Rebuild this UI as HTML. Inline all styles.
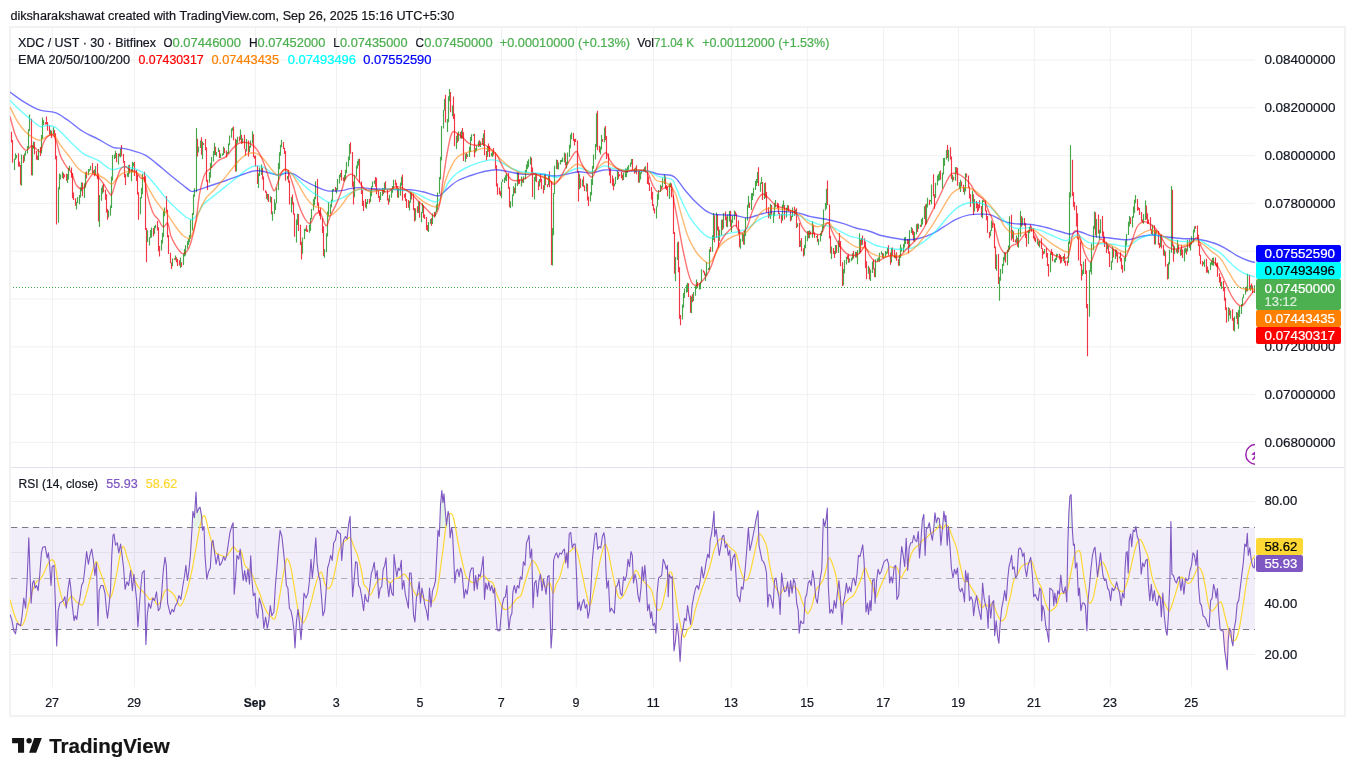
<!DOCTYPE html>
<html><head><meta charset="utf-8"><title>XDC / UST chart</title>
<style>html,body{margin:0;padding:0;background:#fff;overflow:hidden}body{width:1355px;height:776px;font-family:"Liberation Sans",sans-serif}</style></head>
<body>
<svg width="1355" height="776" viewBox="0 0 1355 776" style="display:block;will-change:transform;font-family:'Liberation Sans',sans-serif">
<rect width="1355" height="776" fill="#fff"/>
<text x="10.4" y="19.8" font-size="12.5" fill="#15171c" stroke="#15171c" stroke-width="0.22" textLength="444" lengthAdjust="spacingAndGlyphs">diksharakshawat created with TradingView.com, Sep 26, 2025 15:16 UTC+5:30</text>
<rect x="10" y="27" width="1335" height="689" fill="#fff" stroke="#f2f2f2" stroke-width="2"/>
<path d="M52.40,28V687M134.40,28V687M255.40,28V687M336.50,28V687M420.35,28V687M501.45,28V687M576.25,28V687M653.45,28V687M731.35,28V687M807.40,28V687M883.55,28V687M958.50,28V687M1034.30,28V687M1110.30,28V687M1191.55,28V687M11,60.00H1255M11,107.80H1255M11,155.60H1255M11,203.40H1255M11,251.20H1255M11,299.00H1255M11,346.80H1255M11,394.60H1255M11,442.40H1255M11,501.50H1255M11,552.50H1255M11,603.50H1255M11,654.50H1255" stroke="#f0f1f1" stroke-width="1" fill="none"/>
<path d="M11,467.5H1344" stroke="#e0e3eb" stroke-width="1.2"/>
<clipPath id="cm"><rect x="10" y="28" width="1245" height="439"/></clipPath>
<clipPath id="cr"><rect x="10" y="468" width="1245" height="219"/></clipPath>
<g clip-path="url(#cm)">
<path d="M11.5,131.7V142.5M12.5,140.1V162.8M18.5,153.2V166.4M19.5,161.8V166.7M20.5,165.0V184.8M23.5,155.3V163.0M31.5,118.8V175.2M34.5,142.1V154.3M36.5,151.0V159.5M37.5,155.5V160.0M40.5,146.9V155.9M45.5,122.3V124.5M46.5,116.4V124.4M47.5,121.9V130.7M49.5,125.4V134.3M51.5,130.7V137.9M54.5,130.0V137.0M55.5,133.2V159.2M56.5,155.7V224.5M63.5,172.9V179.1M64.5,174.4V177.3M66.5,173.8V180.8M71.5,167.4V177.7M72.5,173.1V198.3M73.5,192.4V199.9M75.5,198.2V205.7M82.5,182.4V196.3M86.5,171.5V178.4M92.5,163.0V173.7M94.5,169.4V176.2M97.5,163.6V179.3M98.5,173.5V221.4M103.5,184.1V192.3M105.5,189.7V199.8M106.5,194.3V212.6M107.5,209.1V219.8M116.5,152.9V162.2M119.5,153.5V156.4M121.5,145.1V156.2M123.5,154.0V162.7M124.5,161.1V177.4M125.5,173.9V185.1M129.5,164.8V173.6M134.5,161.9V176.1M136.5,170.0V181.1M137.5,175.0V194.4M138.5,192.2V219.8M144.5,171.7V182.1M145.5,176.2V230.1M146.5,227.9V262.3M153.5,228.0V236.2M157.5,221.1V230.6M158.5,227.2V251.2M159.5,246.0V256.5M166.5,196.1V212.5M167.5,209.8V237.6M168.5,235.1V254.1M170.5,252.8V263.3M171.5,262.5V268.9M174.5,258.3V259.8M176.5,257.3V262.2M177.5,258.9V266.1M179.5,260.2V265.6M181.5,262.2V266.9M197.5,138.8V156.5M201.5,137.2V154.8M203.5,142.9V145.0M205.5,139.0V150.2M206.5,147.2V181.8M207.5,179.8V190.0M215.5,146.8V154.9M219.5,150.0V158.0M224.5,148.1V153.2M226.5,150.5V157.3M233.5,126.6V140.3M235.5,138.7V171.5M239.5,136.5V141.4M241.5,134.8V143.7M244.5,134.8V149.0M245.5,148.9V155.8M248.5,140.6V156.4M253.5,134.3V157.3M254.5,155.8V158.8M255.5,155.5V166.6M257.5,165.4V183.9M262.5,167.7V179.6M263.5,176.6V190.6M265.5,190.3V192.7M266.5,191.5V198.8M268.5,194.1V202.0M271.5,197.0V214.3M283.5,142.0V149.0M284.5,147.8V153.9M285.5,151.0V180.7M288.5,169.7V182.7M289.5,180.6V204.6M292.5,194.4V204.7M293.5,202.2V214.7M294.5,213.5V236.7M298.5,214.0V230.9M300.5,224.7V245.0M301.5,241.7V259.6M306.5,225.3V231.8M307.5,229.4V232.0M317.5,179.1V205.7M318.5,202.5V212.5M319.5,210.0V215.8M320.5,207.4V219.6M322.5,217.9V232.9M323.5,226.3V255.9M335.5,187.0V191.4M341.5,170.1V180.6M343.5,177.3V181.1M350.5,142.3V153.7M352.5,152.1V186.7M353.5,181.5V204.5M359.5,158.7V182.7M361.5,181.4V194.0M362.5,189.9V206.1M363.5,200.8V210.9M365.5,199.0V207.4M369.5,199.0V203.5M375.5,177.1V186.7M376.5,177.8V194.3M378.5,190.3V198.1M379.5,196.0V201.9M383.5,188.7V194.3M385.5,181.3V190.1M387.5,188.9V200.6M388.5,198.6V204.8M395.5,179.8V185.6M396.5,182.7V188.9M397.5,186.2V197.4M402.5,174.5V200.4M404.5,194.0V197.8M405.5,193.1V200.9M406.5,198.9V208.0M408.5,200.1V207.8M411.5,192.3V199.5M413.5,193.7V210.3M414.5,208.1V221.4M417.5,206.2V212.7M419.5,201.5V217.8M423.5,205.2V217.8M424.5,214.6V218.9M426.5,217.0V230.1M427.5,225.0V231.0M431.5,218.0V225.8M434.5,212.1V217.4M445.5,94.7V122.4M450.5,91.9V112.2M453.5,96.5V119.0M454.5,113.8V146.3M457.5,133.2V142.7M460.5,132.1V138.6M462.5,128.1V138.4M463.5,132.2V161.1M466.5,152.7V158.7M474.5,133.8V157.3M479.5,140.3V146.2M482.5,137.9V144.5M484.5,130.1V155.2M486.5,150.9V160.6M488.5,143.6V151.8M489.5,145.9V156.9M493.5,148.0V155.5M495.5,152.4V168.7M496.5,165.2V186.5M497.5,183.6V194.8M499.5,187.4V194.6M500.5,191.2V196.0M508.5,172.9V188.7M509.5,187.0V207.3M514.5,187.8V193.2M518.5,172.4V184.2M519.5,179.4V183.8M522.5,179.8V182.6M531.5,157.8V172.7M532.5,167.5V197.0M536.5,173.9V182.2M538.5,181.2V190.1M540.5,174.2V182.2M541.5,178.7V189.2M543.5,185.3V193.5M545.5,173.8V185.2M547.5,184.2V187.3M549.5,171.3V187.2M551.5,181.0V264.9M557.5,160.1V169.3M565.5,153.4V165.5M573.5,133.1V141.0M574.5,139.1V145.5M575.5,138.8V141.9M577.5,140.6V172.6M578.5,171.2V201.5M580.5,178.5V187.7M583.5,176.4V187.0M584.5,185.5V191.1M587.5,183.8V200.5M588.5,196.5V206.0M597.5,110.7V150.2M599.5,145.8V152.5M602.5,138.9V141.8M605.5,126.0V140.0M606.5,136.0V159.0M608.5,153.5V168.8M609.5,167.7V175.4M610.5,168.3V183.2M612.5,175.5V185.7M613.5,178.6V190.2M618.5,171.7V178.7M619.5,174.3V176.3M621.5,171.8V178.2M622.5,174.7V180.6M632.5,159.1V169.9M634.5,168.4V173.7M636.5,165.2V174.3M638.5,171.1V182.8M644.5,167.3V171.4M647.5,162.6V183.9M648.5,176.6V184.8M649.5,182.8V191.1M651.5,187.1V199.6M652.5,191.8V205.9M653.5,204.2V210.4M654.5,208.5V213.5M661.5,186.1V188.9M665.5,176.5V188.8M666.5,185.2V189.9M667.5,187.1V196.3M671.5,183.6V197.2M673.5,195.3V233.9M674.5,232.0V273.8M678.5,241.5V272.2M679.5,267.3V318.7M680.5,315.1V325.2M688.5,283.2V297.1M690.5,295.6V312.8M692.5,294.2V302.3M697.5,281.9V288.0M703.5,270.2V272.5M704.5,271.4V275.6M710.5,246.9V251.9M714.5,215.3V242.2M717.5,214.6V230.5M718.5,226.6V247.6M722.5,219.5V229.9M725.5,211.4V220.2M726.5,216.5V226.7M730.5,210.8V226.7M735.5,211.5V215.4M736.5,213.5V227.2M738.5,220.6V234.3M739.5,229.3V247.2M743.5,233.7V244.5M749.5,202.6V208.1M758.5,167.3V186.1M762.5,182.0V200.0M765.5,182.4V197.7M766.5,192.0V212.6M768.5,207.2V218.3M771.5,205.0V214.8M777.5,202.8V208.2M778.5,203.4V213.9M779.5,212.8V218.7M781.5,214.1V223.3M784.5,205.1V219.5M788.5,205.5V211.5M790.5,210.2V221.6M794.5,206.8V215.8M796.5,208.2V227.9M799.5,222.9V247.0M801.5,237.9V251.2M803.5,248.3V256.5M808.5,230.9V238.3M810.5,231.5V234.4M813.5,224.7V233.8M814.5,232.3V237.7M817.5,234.5V241.8M827.5,180.6V205.1M829.5,204.6V238.5M830.5,235.7V253.4M833.5,248.0V254.0M834.5,250.9V258.0M836.5,244.9V252.8M839.5,233.1V247.2M840.5,241.0V266.3M842.5,262.3V286.1M847.5,255.2V259.2M848.5,254.4V262.8M853.5,251.0V258.5M856.5,252.0V257.6M860.5,239.5V252.4M862.5,235.4V244.8M864.5,238.2V247.1M865.5,241.6V268.0M866.5,261.3V279.3M869.5,267.4V279.6M873.5,259.5V269.2M874.5,268.3V277.2M882.5,252.9V257.8M888.5,245.2V255.5M890.5,252.6V264.7M892.5,247.4V255.4M894.5,250.0V258.0M896.5,252.3V260.8M898.5,258.8V265.8M907.5,239.1V243.9M908.5,239.8V253.6M912.5,228.5V234.8M913.5,231.0V240.7M917.5,223.5V232.1M920.5,224.7V227.1M925.5,204.6V225.1M929.5,199.7V205.3M933.5,174.2V196.3M934.5,194.2V208.7M940.5,170.6V179.7M947.5,145.1V157.9M950.5,147.3V159.5M951.5,156.5V179.1M953.5,176.7V180.2M956.5,167.2V173.0M957.5,167.8V185.8M961.5,181.4V186.5M963.5,184.7V192.0M966.5,173.5V177.5M968.5,175.6V187.9M969.5,186.6V198.4M970.5,194.3V207.0M973.5,194.3V214.9M976.5,201.1V208.3M977.5,202.8V212.0M978.5,204.4V210.7M979.5,200.2V208.2M981.5,206.0V216.9M985.5,200.2V211.5M986.5,210.2V220.2M987.5,215.9V232.8M989.5,231.9V238.3M992.5,222.5V227.9M994.5,223.5V248.3M995.5,246.4V268.9M998.5,253.9V284.0M1005.5,252.5V262.5M1011.5,214.7V240.4M1013.5,231.2V242.0M1015.5,239.4V242.6M1017.5,237.8V246.8M1021.5,216.1V226.7M1024.5,218.1V225.7M1025.5,223.1V237.9M1026.5,234.1V246.8M1030.5,224.6V229.0M1031.5,226.4V231.8M1033.5,227.9V238.4M1034.5,235.4V240.7M1035.5,237.5V242.3M1038.5,241.5V246.0M1041.5,238.3V249.0M1042.5,248.2V258.8M1043.5,251.3V254.2M1046.5,248.1V257.6M1047.5,252.9V266.1M1048.5,263.9V276.5M1051.5,249.3V255.0M1052.5,251.9V261.3M1059.5,253.8V259.5M1060.5,255.0V263.5M1061.5,257.2V262.4M1064.5,253.5V263.1M1065.5,260.8V265.8M1067.5,260.7V265.7M1072.5,159.8V196.1M1073.5,192.3V206.8M1074.5,202.1V210.2M1076.5,205.6V226.6M1077.5,213.2V239.3M1078.5,236.4V260.5M1080.5,241.4V265.7M1081.5,264.1V280.6M1085.5,258.7V274.0M1086.5,270.6V308.3M1087.5,304.1V356.3M1095.5,212.2V235.5M1098.5,214.6V233.5M1102.5,216.0V236.5M1103.5,231.4V242.8M1104.5,236.6V247.1M1106.5,241.8V253.0M1108.5,246.1V253.7M1109.5,251.6V266.9M1113.5,248.8V257.6M1116.5,249.7V256.5M1117.5,253.0V262.7M1120.5,252.2V261.5M1121.5,258.0V269.3M1122.5,265.1V272.7M1130.5,217.2V224.1M1137.5,199.0V210.7M1138.5,207.3V210.0M1139.5,208.1V215.1M1141.5,212.1V221.6M1142.5,219.6V222.8M1146.5,205.4V219.6M1147.5,213.3V223.9M1148.5,219.6V223.8M1150.5,217.3V230.0M1151.5,229.1V234.1M1154.5,225.3V244.5M1156.5,230.4V233.8M1158.5,231.1V244.7M1159.5,242.9V248.3M1161.5,234.3V248.5M1163.5,244.8V255.6M1165.5,251.4V266.4M1167.5,263.9V279.5M1172.5,189.8V246.5M1173.5,244.4V261.8M1176.5,249.2V252.4M1178.5,244.6V252.6M1181.5,245.0V255.2M1182.5,249.5V258.0M1186.5,248.4V254.6M1189.5,239.4V247.7M1195.5,226.0V228.8M1197.5,225.4V238.9M1198.5,234.8V246.1M1199.5,244.6V255.8M1200.5,254.8V264.2M1202.5,260.9V266.3M1206.5,258.8V272.8M1207.5,266.6V272.4M1215.5,257.6V265.4M1216.5,263.2V267.1M1217.5,262.4V276.7M1219.5,273.3V282.4M1220.5,277.1V286.2M1223.5,281.0V291.2M1224.5,287.1V300.7M1225.5,297.7V310.0M1226.5,307.2V322.7M1229.5,308.3V315.6M1232.5,309.2V320.8M1233.5,318.1V330.5M1237.5,312.6V324.2M1246.5,286.5V291.7M1249.5,274.8V289.0M1251.5,283.6V289.2M1252.5,285.5V293.1" stroke="#f23645" stroke-width="1.15" fill="none"/>
<path d="M14.5,158.4V170.1M15.5,153.3V159.7M16.5,155.0V158.2M21.5,154.6V185.7M24.5,153.5V161.2M25.5,151.0V155.6M27.5,146.0V153.4M28.5,129.3V148.5M29.5,114.6V131.1M32.5,145.3V175.5M33.5,141.6V148.8M38.5,149.1V160.2M41.5,135.1V153.4M42.5,117.6V138.8M43.5,120.3V124.9M50.5,129.7V134.9M53.5,127.3V135.2M58.5,187.2V222.7M59.5,173.6V189.5M60.5,174.6V179.4M62.5,171.6V177.9M67.5,174.0V183.0M68.5,168.0V179.5M69.5,165.8V170.3M76.5,201.8V209.5M77.5,196.9V203.1M79.5,194.9V204.3M80.5,187.4V197.5M81.5,182.3V191.3M84.5,183.3V197.9M85.5,172.3V187.7M88.5,168.9V175.2M89.5,169.3V171.4M90.5,165.7V170.2M93.5,170.5V173.3M95.5,165.9V175.0M99.5,195.0V226.9M101.5,187.7V200.7M102.5,185.2V193.7M108.5,210.4V217.6M110.5,205.6V215.8M111.5,176.4V207.9M112.5,155.0V180.5M114.5,154.6V159.1M115.5,150.7V157.9M118.5,153.8V164.5M120.5,148.8V157.6M127.5,173.0V176.8M128.5,165.3V176.9M131.5,168.9V181.2M132.5,161.7V171.3M133.5,162.7V166.2M140.5,197.0V214.3M141.5,187.8V198.6M142.5,173.7V194.2M147.5,230.2V242.0M149.5,237.2V245.5M150.5,230.1V237.9M151.5,227.6V237.5M154.5,226.0V234.1M155.5,224.7V228.3M161.5,240.1V250.5M162.5,232.7V243.4M163.5,210.9V236.9M164.5,207.4V216.3M172.5,258.5V266.2M175.5,255.6V260.2M180.5,257.5V268.1M183.5,254.1V265.1M184.5,249.0V256.6M185.5,245.3V255.6M187.5,241.2V248.8M188.5,238.9V245.1M189.5,235.0V242.3M190.5,219.7V238.8M192.5,212.9V230.5M193.5,194.6V215.1M194.5,188.2V196.8M196.5,127.9V192.2M198.5,146.7V152.4M200.5,140.6V148.1M202.5,141.5V159.1M209.5,172.0V182.8M210.5,162.9V177.7M211.5,157.0V168.0M213.5,151.1V161.5M214.5,142.9V155.2M216.5,151.9V156.4M218.5,147.8V152.0M220.5,153.4V157.9M222.5,153.4V155.8M223.5,146.4V154.9M227.5,152.1V154.0M228.5,143.4V153.5M229.5,135.5V145.2M231.5,128.6V137.7M232.5,127.4V130.8M236.5,139.8V171.5M237.5,136.7V143.4M240.5,129.5V139.8M242.5,138.2V143.3M246.5,139.1V151.5M249.5,145.7V152.2M250.5,140.5V147.7M252.5,131.3V143.5M258.5,173.4V188.0M259.5,167.6V176.0M261.5,164.4V175.0M267.5,193.7V200.2M270.5,196.3V202.6M272.5,211.4V220.7M274.5,199.2V213.9M275.5,202.8V209.9M276.5,187.4V203.2M278.5,163.1V190.0M279.5,152.3V169.3M280.5,144.8V155.8M281.5,139.7V147.2M287.5,176.0V179.6M291.5,197.1V212.4M296.5,219.4V242.4M297.5,213.8V225.1M302.5,237.5V253.8M304.5,229.1V239.0M305.5,228.6V231.0M309.5,224.4V232.7M310.5,218.0V230.7M311.5,209.0V219.2M313.5,199.2V210.5M314.5,197.0V205.2M315.5,181.3V199.2M324.5,249.0V257.7M326.5,233.2V252.3M327.5,211.5V236.4M328.5,202.2V216.7M330.5,204.3V214.0M331.5,199.4V207.2M332.5,189.3V201.3M333.5,188.9V191.0M336.5,188.0V193.5M337.5,179.1V190.3M339.5,174.7V183.4M340.5,173.1V177.3M344.5,175.0V181.7M345.5,169.8V179.7M346.5,161.9V173.3M348.5,156.5V166.6M349.5,144.0V160.3M354.5,175.1V197.3M356.5,165.5V176.7M357.5,161.0V168.6M358.5,158.9V165.4M366.5,201.9V208.7M367.5,199.1V204.1M370.5,190.6V201.9M371.5,186.3V196.2M372.5,181.4V187.3M374.5,180.6V183.8M380.5,191.9V199.9M382.5,188.0V196.0M384.5,182.8V192.4M389.5,194.7V202.3M391.5,189.7V197.8M392.5,186.1V192.7M393.5,179.8V188.5M398.5,188.1V198.1M400.5,182.6V195.7M401.5,176.7V185.8M409.5,201.0V210.4M410.5,191.7V202.8M415.5,208.5V220.5M418.5,201.6V212.9M421.5,212.1V222.2M422.5,203.3V213.0M428.5,221.9V231.9M430.5,218.9V223.7M432.5,213.6V224.1M435.5,211.5V216.5M436.5,204.4V212.0M437.5,192.4V209.7M439.5,177.0V193.8M440.5,156.7V179.5M441.5,126.1V160.4M443.5,109.9V128.5M444.5,99.0V110.5M447.5,119.1V132.1M448.5,96.2V122.3M449.5,88.9V101.2M452.5,105.4V116.2M456.5,135.7V149.1M458.5,131.4V140.9M461.5,130.4V138.8M465.5,153.8V162.0M467.5,154.2V156.9M469.5,146.8V157.1M470.5,137.0V152.0M471.5,134.2V140.9M473.5,134.3V136.0M475.5,148.3V152.5M476.5,145.6V151.3M478.5,141.3V147.1M480.5,141.6V147.0M483.5,133.6V146.1M487.5,146.0V157.0M491.5,153.0V156.2M492.5,151.3V156.9M501.5,181.9V198.3M502.5,179.2V182.1M504.5,177.5V183.1M505.5,175.3V180.4M506.5,173.3V181.3M510.5,201.2V208.3M512.5,194.6V206.5M513.5,186.2V196.1M515.5,183.0V193.5M517.5,172.3V186.1M521.5,176.4V186.6M523.5,176.4V182.9M525.5,169.9V179.5M526.5,164.6V172.2M527.5,161.0V169.1M528.5,159.3V167.3M530.5,156.5V164.6M534.5,176.9V199.5M535.5,173.3V181.3M539.5,179.1V186.5M544.5,173.8V190.0M548.5,175.7V185.2M552.5,227.9V265.6M553.5,192.9V235.2M554.5,165.8V194.0M556.5,159.6V169.1M558.5,162.4V169.5M560.5,160.1V164.5M561.5,159.7V162.0M562.5,157.6V162.0M564.5,152.5V162.3M566.5,161.8V168.5M567.5,152.6V164.2M569.5,144.8V157.0M570.5,134.6V148.3M571.5,132.4V139.2M579.5,173.7V189.2M582.5,179.4V186.2M586.5,183.2V191.6M590.5,192.0V201.4M591.5,179.1V195.2M592.5,166.1V184.9M593.5,154.4V168.7M595.5,143.9V159.4M596.5,113.3V147.1M600.5,146.8V154.4M601.5,134.9V149.6M604.5,127.6V142.3M614.5,183.5V186.3M615.5,176.8V184.3M617.5,170.7V179.9M623.5,172.4V180.0M625.5,168.4V176.9M626.5,168.8V177.2M627.5,166.7V173.1M628.5,165.0V169.7M630.5,162.6V167.1M631.5,159.0V164.5M635.5,167.6V172.5M639.5,170.2V182.8M640.5,172.2V179.4M641.5,170.2V173.8M643.5,169.0V171.4M645.5,166.1V172.6M656.5,206.3V218.5M657.5,193.8V206.6M658.5,190.1V199.8M660.5,184.8V192.1M662.5,178.2V187.4M664.5,174.5V184.0M669.5,183.4V199.1M670.5,182.5V187.3M675.5,257.1V281.3M677.5,242.3V260.0M682.5,304.5V319.6M683.5,293.0V307.7M684.5,288.6V298.0M686.5,284.8V292.8M687.5,282.8V291.9M691.5,296.4V313.3M693.5,291.9V301.0M695.5,286.0V295.7M696.5,279.6V288.9M699.5,283.1V289.4M700.5,281.7V289.3M701.5,269.2V282.2M705.5,273.5V280.9M706.5,262.0V275.8M708.5,268.0V270.0M709.5,249.2V269.7M712.5,235.2V251.8M713.5,213.0V240.0M716.5,212.6V237.7M719.5,229.7V240.9M721.5,219.7V235.2M723.5,212.9V228.4M727.5,214.8V227.2M729.5,211.0V221.4M731.5,219.7V231.9M732.5,215.6V223.0M734.5,210.5V219.7M740.5,238.7V248.7M742.5,233.0V241.5M744.5,230.7V244.7M745.5,217.8V236.0M747.5,204.8V220.4M748.5,195.9V207.4M751.5,193.2V210.0M752.5,193.0V199.9M753.5,187.7V195.9M755.5,181.0V190.0M756.5,178.9V185.9M757.5,172.1V183.0M760.5,182.6V191.8M761.5,177.3V183.9M764.5,183.1V199.0M769.5,213.5V216.5M770.5,204.1V219.0M773.5,212.4V223.0M774.5,202.7V216.3M775.5,199.9V207.6M782.5,204.6V220.7M783.5,200.4V207.7M786.5,207.8V217.5M787.5,205.1V210.5M791.5,215.8V220.3M792.5,207.6V217.1M795.5,209.5V214.6M797.5,223.3V226.9M800.5,240.4V246.8M804.5,244.7V255.4M805.5,235.7V248.2M807.5,230.9V241.3M809.5,230.3V238.2M812.5,221.2V237.7M816.5,235.9V237.5M818.5,239.1V245.3M820.5,233.3V241.6M821.5,230.8V235.9M822.5,224.5V232.1M823.5,209.6V228.2M825.5,202.9V210.6M826.5,188.7V208.7M831.5,246.4V259.1M835.5,244.9V254.2M838.5,240.4V253.1M843.5,269.1V285.2M844.5,259.9V273.4M846.5,257.1V264.6M849.5,258.5V262.5M851.5,257.8V261.2M852.5,253.2V259.8M855.5,251.8V257.6M857.5,249.9V264.2M859.5,233.3V253.4M861.5,238.0V245.2M868.5,265.8V273.7M870.5,269.5V281.1M872.5,261.5V273.1M875.5,259.2V277.3M877.5,258.5V261.8M878.5,257.4V260.4M879.5,252.8V261.8M881.5,251.2V254.6M883.5,253.5V258.7M885.5,251.1V256.9M886.5,251.8V254.2M887.5,247.8V253.5M891.5,247.8V262.4M895.5,254.4V258.6M899.5,254.8V265.7M900.5,244.6V258.1M901.5,247.6V251.4M903.5,243.9V252.2M904.5,237.5V247.5M905.5,237.1V244.0M909.5,230.3V247.4M911.5,227.0V233.1M914.5,232.0V241.8M916.5,224.3V234.3M918.5,223.7V228.9M921.5,218.9V226.8M922.5,217.4V224.6M924.5,206.3V219.1M926.5,203.8V223.8M927.5,197.8V207.6M930.5,200.0V201.5M931.5,184.5V204.2M935.5,182.7V197.9M937.5,175.6V185.6M938.5,174.1V180.9M939.5,171.4V180.3M942.5,172.8V188.4M943.5,158.1V174.6M944.5,157.8V165.7M946.5,150.0V159.5M948.5,149.7V161.5M952.5,175.0V181.9M955.5,167.0V180.8M959.5,182.3V189.0M960.5,179.7V192.1M964.5,187.6V194.8M965.5,173.3V191.5M972.5,190.8V203.5M974.5,199.0V211.4M982.5,200.1V218.2M983.5,200.4V201.9M990.5,230.2V236.2M991.5,220.6V231.1M996.5,254.5V270.8M999.5,277.0V300.7M1000.5,268.9V280.8M1002.5,264.1V273.8M1003.5,257.0V266.1M1004.5,252.1V260.4M1007.5,249.8V265.2M1008.5,245.4V252.1M1009.5,216.2V249.8M1012.5,230.0V238.8M1016.5,235.5V242.7M1018.5,228.9V247.7M1020.5,211.0V236.7M1022.5,217.6V225.4M1028.5,230.6V243.9M1029.5,226.8V233.2M1037.5,238.9V244.5M1039.5,240.9V247.6M1044.5,249.1V253.5M1050.5,252.9V272.3M1054.5,259.3V262.6M1055.5,258.0V262.6M1056.5,253.7V260.0M1057.5,253.9V256.3M1063.5,255.9V261.3M1068.5,241.6V262.9M1069.5,192.2V244.1M1070.5,145.2V197.4M1082.5,269.8V275.4M1083.5,261.5V274.0M1089.5,269.9V316.8M1090.5,261.8V271.8M1091.5,243.4V274.5M1093.5,226.1V250.3M1094.5,211.6V229.2M1096.5,219.1V237.6M1099.5,229.7V239.7M1100.5,219.2V233.2M1107.5,244.3V249.2M1111.5,260.9V269.9M1112.5,246.6V262.5M1115.5,249.6V259.0M1119.5,256.4V258.4M1124.5,257.8V271.3M1125.5,240.6V261.4M1126.5,234.0V245.4M1128.5,221.8V235.1M1129.5,215.9V226.4M1132.5,216.2V227.5M1133.5,206.5V217.7M1134.5,199.8V213.0M1135.5,194.9V203.2M1143.5,214.0V223.7M1145.5,200.4V220.0M1152.5,224.8V234.9M1155.5,230.1V244.5M1160.5,234.9V247.1M1164.5,249.8V256.3M1168.5,262.3V278.8M1169.5,249.8V264.6M1171.5,185.9V252.7M1174.5,246.2V254.1M1177.5,239.7V253.7M1180.5,249.1V255.8M1184.5,248.4V261.6M1185.5,247.7V252.8M1187.5,239.8V251.6M1190.5,241.6V250.6M1191.5,236.2V244.6M1193.5,229.4V242.5M1194.5,226.4V232.4M1203.5,262.1V264.5M1204.5,259.6V267.0M1208.5,269.7V273.7M1210.5,262.5V270.1M1211.5,260.8V264.8M1212.5,257.9V265.6M1213.5,257.5V265.8M1221.5,281.7V289.1M1228.5,307.2V321.6M1230.5,310.5V318.7M1234.5,316.4V331.6M1236.5,312.1V318.8M1238.5,310.1V328.7M1239.5,305.9V317.1M1241.5,304.0V313.9M1242.5,297.6V306.1M1243.5,294.2V298.0M1245.5,287.1V294.5M1247.5,273.7V291.2M1250.5,285.2V290.7M1254.5,285.2V293.0" stroke="#47a84b" stroke-width="1.15" fill="none"/>
<path d="M10.0,92.1C12.5,93.8 20.1,99.6 25.1,102.6C30.1,105.6 35.1,108.5 40.2,110.2C45.2,111.8 50.6,111.0 55.2,112.7C59.8,114.3 63.2,117.1 67.8,120.2C72.4,123.3 77.8,128.4 82.9,131.5C87.9,134.7 92.9,136.4 98.0,139.1C103.0,141.7 108.8,145.8 113.0,147.3C117.2,148.9 119.3,147.6 123.1,148.4C126.9,149.1 131.9,150.4 135.6,151.6C139.4,152.8 142.3,153.5 145.7,155.4C149.0,157.3 151.6,159.6 155.8,162.9C159.9,166.3 166.2,171.7 170.8,175.5C175.4,179.3 180.0,182.9 183.4,185.5C186.7,188.1 188.8,190.2 190.9,191.1C193.0,191.9 192.6,191.5 196.0,190.6C199.3,189.6 206.0,187.2 211.0,185.5C216.1,183.9 221.1,182.3 226.1,180.5C231.1,178.8 236.6,176.6 241.2,175.0C245.8,173.4 250.4,171.6 253.8,171.0C257.1,170.3 258.4,170.5 261.3,171.0C264.2,171.4 268.4,172.8 271.3,173.5C274.3,174.1 276.4,175.1 278.9,175.0C281.4,174.9 283.9,173.1 286.4,173.0C288.9,172.9 291.0,173.0 294.0,174.2C296.9,175.5 300.2,178.4 304.0,180.5C307.8,182.6 312.8,185.1 316.6,186.8C320.3,188.5 323.7,189.9 326.6,190.6C329.6,191.3 331.2,191.2 334.2,191.1C337.1,191.0 341.6,190.5 344.2,190.1C346.9,189.6 347.4,189.0 350.1,188.6C352.7,188.1 356.3,187.5 360.1,187.6C363.9,187.6 367.6,188.5 372.7,188.8C377.7,189.1 384.0,189.1 390.3,189.3C396.5,189.5 404.9,189.4 410.4,189.8C415.8,190.2 418.7,190.9 422.9,191.8C427.1,192.8 432.6,195.0 435.5,195.6C438.4,196.1 438.4,196.3 440.5,195.1C442.6,193.8 445.1,190.5 448.1,188.1C451.0,185.6 454.3,182.6 458.1,180.5C461.9,178.4 466.5,177.0 470.7,175.5C474.9,174.0 479.0,172.7 483.2,171.7C487.4,170.8 491.6,169.7 495.8,169.7C500.0,169.7 503.8,171.0 508.4,171.7C513.0,172.5 518.0,173.8 523.4,174.2C528.9,174.7 536.0,173.9 541.0,174.2C546.1,174.5 549.4,176.0 553.6,176.0C557.8,176.0 562.0,174.9 566.2,174.2C570.4,173.5 574.5,171.9 578.7,171.7C582.9,171.5 587.1,173.3 591.3,173.0C595.5,172.7 599.7,170.4 603.9,170.0C608.0,169.5 611.8,170.3 616.4,170.5C621.0,170.6 626.5,170.9 631.5,171.0C636.5,171.1 642.0,170.4 646.6,171.0C651.2,171.5 655.0,173.5 659.1,174.2C663.3,175.0 668.6,174.5 671.7,175.5C674.8,176.5 675.4,177.7 677.6,180.2C679.8,182.7 682.2,186.7 685.1,190.3C688.1,193.8 691.8,198.2 695.2,201.6C698.5,204.9 702.3,208.3 705.2,210.4C708.2,212.5 709.8,213.4 712.8,214.1C715.7,214.9 719.1,214.7 722.8,214.9C726.6,215.1 731.2,214.9 735.4,215.4C739.6,215.9 743.8,218.1 748.0,217.9C752.1,217.7 756.3,215.2 760.5,214.1C764.7,213.1 768.9,212.0 773.1,211.6C777.3,211.2 781.5,211.4 785.6,211.6C789.8,211.8 794.0,212.0 798.2,212.9C802.4,213.7 806.2,215.6 810.8,216.6C815.4,217.7 820.8,218.1 825.9,219.2C830.9,220.2 835.9,221.5 840.9,222.9C846.0,224.4 851.4,226.6 856.0,228.0C860.6,229.3 864.4,229.7 868.6,231.0C872.8,232.2 876.9,234.3 881.1,235.5C885.3,236.7 889.5,237.3 893.7,238.0C897.9,238.7 902.1,239.7 906.3,239.8C910.5,239.8 914.6,239.4 918.8,238.5C923.0,237.6 927.2,236.2 931.4,234.2C935.6,232.3 939.8,229.2 944.0,226.7C948.1,224.2 952.3,221.1 956.5,219.2C960.7,217.2 964.9,215.7 969.1,214.9C973.3,214.0 977.9,214.1 981.7,214.1C985.4,214.2 987.8,214.0 991.3,215.1C994.8,216.2 998.9,219.4 1002.7,220.8C1006.5,222.2 1009.3,223.0 1014.0,223.6C1018.7,224.2 1025.8,223.9 1031.0,224.5C1036.2,225.1 1040.5,226.2 1045.2,227.3C1049.9,228.5 1055.1,230.2 1059.4,231.3C1063.6,232.4 1067.6,234.1 1070.7,234.1C1073.8,234.1 1074.0,230.9 1077.8,231.3C1081.6,231.7 1088.4,235.3 1093.4,236.4C1098.3,237.5 1101.9,237.2 1107.5,237.8C1113.2,238.4 1121.7,240.0 1127.4,239.8C1133.0,239.6 1137.3,237.2 1141.5,236.4C1145.8,235.6 1148.6,234.9 1152.9,235.0C1157.1,235.1 1161.8,236.3 1167.0,237.0C1172.2,237.6 1178.9,238.3 1184.0,238.7C1189.2,239.0 1193.0,238.4 1198.2,239.2C1203.4,240.0 1210.5,241.8 1215.2,243.5C1219.9,245.1 1222.8,247.0 1226.6,249.1C1230.3,251.3 1234.4,254.3 1237.9,256.2C1241.4,258.1 1245.0,259.5 1247.8,260.5C1250.6,261.5 1253.7,262.1 1254.9,262.5" stroke="#0000ff" stroke-opacity="0.55" stroke-width="1.4" fill="none" stroke-linejoin="round"/>
<path d="M10.0,100.6C11.7,102.2 16.7,107.1 20.1,110.2C23.4,113.2 26.8,116.2 30.1,118.9C33.5,121.7 37.2,125.4 40.2,126.5C43.1,127.5 45.2,125.1 47.7,125.2C50.2,125.4 52.7,125.8 55.2,127.2C57.7,128.7 59.4,130.8 62.8,134.0C66.1,137.3 71.6,143.1 75.3,146.6C79.1,150.1 81.6,152.6 85.4,154.9C89.2,157.2 93.8,158.0 98.0,160.4C102.1,162.8 107.2,167.9 110.5,169.2C113.9,170.5 115.5,168.9 118.1,168.5C120.6,168.0 122.7,166.6 125.6,166.7C128.5,166.8 132.3,168.0 135.6,169.2C139.0,170.5 142.3,171.5 145.7,174.2C149.0,177.0 152.4,181.6 155.8,185.5C159.1,189.5 162.5,194.3 165.8,198.1C169.2,201.9 172.5,205.0 175.9,208.2C179.2,211.3 183.2,215.1 185.9,217.0C188.6,218.8 190.3,219.9 192.2,219.5C194.1,219.0 195.3,217.0 197.2,214.4C199.1,211.9 201.2,207.1 203.5,204.4C205.8,201.7 207.7,200.8 211.0,198.1C214.4,195.4 219.4,191.4 223.6,188.1C227.8,184.7 232.4,181.0 236.2,178.0C239.9,175.0 243.1,172.0 246.2,170.0C249.4,168.0 252.1,166.4 255.0,165.9C257.9,165.5 260.7,166.1 263.8,167.4C266.9,168.8 270.9,173.0 273.9,174.2C276.8,175.5 279.3,175.4 281.4,175.0C283.5,174.6 284.3,171.6 286.4,171.7C288.5,171.8 291.4,173.6 294.0,175.5C296.5,177.4 298.6,180.3 301.5,183.0C304.4,185.8 308.2,189.3 311.6,191.8C314.9,194.3 318.7,196.3 321.6,198.1C324.5,199.9 326.6,202.0 329.1,202.4C331.7,202.7 334.2,201.0 336.7,200.1C339.2,199.2 342.0,198.0 344.2,196.8C346.4,195.7 347.4,194.3 350.1,193.1C352.7,191.8 356.8,189.7 360.1,189.3C363.5,188.9 366.0,190.6 370.2,190.6C374.3,190.6 379.8,189.4 385.2,189.3C390.7,189.2 397.8,189.4 402.8,190.1C407.8,190.7 411.2,191.5 415.4,193.1C419.6,194.6 424.4,197.9 428.0,199.4C431.5,200.8 434.4,202.5 436.7,201.9C439.1,201.2 439.9,198.7 441.8,195.6C443.7,192.5 445.8,186.6 448.1,183.0C450.4,179.5 452.7,176.7 455.6,174.2C458.5,171.7 461.9,169.8 465.6,168.0C469.4,166.1 474.0,164.3 478.2,162.9C482.4,161.6 487.4,160.2 490.8,159.9C494.1,159.6 495.4,159.8 498.3,160.9C501.2,162.0 504.6,164.9 508.4,166.7C512.1,168.5 516.3,170.7 520.9,171.7C525.5,172.8 531.4,172.4 536.0,173.0C540.6,173.5 545.2,174.2 548.6,175.0C551.9,175.7 553.2,177.8 556.1,177.5C559.0,177.2 562.4,174.6 566.2,173.0C569.9,171.4 574.5,168.2 578.7,168.0C582.9,167.7 587.1,172.1 591.3,171.7C595.5,171.4 600.1,166.5 603.9,165.9C607.6,165.4 609.7,167.7 613.9,168.5C618.1,169.2 623.5,170.0 629.0,170.5C634.4,170.9 641.6,169.9 646.6,171.0C651.6,172.0 655.0,175.4 659.1,176.7C663.3,178.1 669.1,177.8 671.7,179.3C674.4,180.7 673.5,181.7 675.1,185.2C676.7,188.7 678.8,194.9 681.4,200.3C683.9,205.8 687.0,212.9 690.2,217.9C693.3,222.9 697.1,227.2 700.2,230.5C703.3,233.7 706.1,236.5 709.0,237.5C711.9,238.5 714.7,237.4 717.8,236.7C720.9,236.1 724.5,234.3 727.8,233.5C731.2,232.6 734.6,232.6 737.9,231.7C741.3,230.8 744.6,229.8 748.0,228.0C751.3,226.1 755.1,222.3 758.0,220.4C760.9,218.5 762.2,217.6 765.5,216.6C768.9,215.7 773.9,215.2 778.1,214.9C782.3,214.6 787.3,214.8 790.7,214.9C794.0,215.0 795.7,214.7 798.2,215.4C800.7,216.1 802.4,217.7 805.8,219.2C809.1,220.6 814.1,222.9 818.3,224.2C822.5,225.4 827.1,225.4 830.9,226.7C834.6,228.0 837.6,230.0 840.9,231.7C844.3,233.4 847.2,235.5 851.0,236.7C854.8,238.0 859.4,237.8 863.5,239.3C867.7,240.7 871.9,244.1 876.1,245.5C880.3,247.0 884.9,247.4 888.7,248.1C892.4,248.7 895.0,249.3 898.7,249.3C902.5,249.3 907.1,249.3 911.3,248.1C915.5,246.8 919.7,244.7 923.9,241.8C928.0,238.8 932.2,234.9 936.4,230.5C940.6,226.1 945.2,219.4 949.0,215.4C952.8,211.4 955.7,208.7 959.0,206.6C962.4,204.5 965.7,203.5 969.1,202.8C972.4,202.2 975.8,202.2 979.1,202.8C982.5,203.5 987.2,205.7 989.2,206.6C991.2,207.5 989.1,205.9 991.3,208.0C993.6,210.2 998.9,216.1 1002.7,219.4C1006.5,222.7 1009.8,226.5 1014.0,227.9C1018.3,229.3 1023.9,227.5 1028.2,227.9C1032.4,228.3 1035.7,229.0 1039.5,230.2C1043.3,231.3 1046.6,233.2 1050.9,235.0C1055.1,236.7 1061.7,240.2 1065.0,240.6C1068.3,241.1 1068.6,238.8 1070.7,237.8C1072.8,236.9 1074.9,234.3 1077.8,235.0C1080.6,235.7 1084.1,240.6 1087.7,242.1C1091.2,243.5 1094.8,243.1 1099.0,243.5C1103.3,243.9 1108.5,243.9 1113.2,244.3C1117.9,244.8 1123.1,247.2 1127.4,246.3C1131.6,245.5 1134.9,241.1 1138.7,239.2C1142.5,237.3 1146.3,235.4 1150.0,235.0C1153.8,234.5 1157.1,235.4 1161.4,236.4C1165.6,237.3 1170.8,239.8 1175.5,240.6C1180.3,241.5 1185.9,241.6 1189.7,241.5C1193.5,241.4 1194.9,239.0 1198.2,239.8C1201.5,240.6 1205.8,244.0 1209.6,246.3C1213.3,248.6 1217.1,250.3 1220.9,253.4C1224.7,256.5 1228.4,261.4 1232.2,264.7C1236.0,268.0 1239.8,271.2 1243.6,273.2C1247.3,275.3 1253.0,276.3 1254.9,276.9" stroke="#00ffff" stroke-opacity="0.55" stroke-width="1.4" fill="none" stroke-linejoin="round"/>
<path d="M10.0,107.1C11.3,109.5 15.0,117.4 17.5,121.5C20.1,125.5 22.6,128.9 25.1,131.5C27.6,134.2 30.1,135.8 32.6,137.3C35.1,138.8 37.6,140.6 40.2,140.3C42.7,140.1 45.4,136.7 47.7,135.8C50.0,134.9 51.9,133.3 54.0,134.8C56.1,136.3 57.5,141.0 60.3,144.8C63.0,148.7 67.4,154.0 70.3,157.9C73.2,161.8 75.3,165.4 77.8,168.0C80.4,170.5 82.9,172.6 85.4,173.5C87.9,174.4 90.8,173.2 92.9,173.5C95.0,173.7 95.9,174.0 98.0,175.0C100.0,176.0 103.2,177.7 105.5,179.3C107.8,180.8 109.9,184.4 111.8,184.3C113.7,184.2 114.9,180.4 116.8,178.5C118.7,176.6 120.8,174.1 123.1,173.0C125.4,171.8 127.7,171.4 130.6,171.7C133.6,172.1 138.0,172.7 140.7,175.0C143.4,177.3 144.4,181.3 147.0,185.5C149.5,189.8 153.0,196.5 155.8,200.6C158.5,204.7 161.2,207.7 163.3,210.2C165.4,212.7 166.2,212.9 168.3,215.7C170.4,218.5 173.3,223.7 175.9,227.0C178.4,230.4 181.1,233.9 183.4,235.8C185.7,237.7 188.0,239.1 189.7,238.3C191.4,237.5 192.0,235.0 193.4,230.8C194.9,226.6 196.4,218.6 198.5,213.2C200.6,207.7 203.5,201.9 206.0,198.1C208.5,194.3 210.6,193.7 213.5,190.6C216.5,187.4 220.2,183.2 223.6,179.3C226.9,175.3 230.7,170.2 233.7,166.7C236.6,163.2 238.7,160.6 241.2,158.4C243.7,156.2 246.2,154.2 248.7,153.4C251.2,152.5 253.8,152.4 256.3,153.4C258.8,154.3 261.3,156.5 263.8,159.2C266.3,161.8 269.0,166.6 271.3,169.2C273.6,171.8 275.3,175.0 277.6,175.0C279.9,175.0 282.9,169.5 285.2,169.2C287.5,169.0 289.1,170.8 291.4,173.5C293.8,176.2 296.5,181.4 299.0,185.5C301.5,189.6 304.0,194.7 306.5,198.1C309.0,201.5 311.6,204.5 314.1,206.1C316.6,207.8 319.1,206.6 321.6,208.2C324.1,209.7 326.6,215.3 329.1,215.7C331.7,216.1 334.2,213.0 336.7,210.7C339.2,208.4 342.4,204.2 344.2,201.9C346.0,199.6 345.7,198.7 347.5,196.8C349.3,195.0 352.6,191.9 355.1,190.6C357.6,189.2 360.1,188.3 362.6,188.6C365.1,188.8 366.8,191.6 370.2,191.8C373.5,192.1 378.1,190.6 382.7,190.1C387.3,189.5 393.2,188.3 397.8,188.6C402.4,188.8 406.6,190.0 410.4,191.8C414.1,193.6 417.5,197.3 420.4,199.4C423.3,201.5 425.2,203.1 428.0,204.4C430.7,205.6 434.7,207.5 436.7,206.9C438.8,206.3 439.1,205.0 440.5,200.6C442.0,196.2 443.7,186.4 445.5,180.5C447.4,174.7 449.7,169.4 451.8,165.4C453.9,161.5 455.8,158.7 458.1,156.6C460.4,154.5 462.7,153.9 465.6,152.9C468.6,151.8 472.6,151.1 475.7,150.4C478.8,149.6 481.6,148.1 484.5,148.4C487.4,148.6 490.6,149.8 493.3,151.6C496.0,153.4 497.9,156.4 500.8,159.2C503.8,161.9 507.5,165.6 510.9,168.0C514.2,170.3 517.2,171.9 520.9,173.0C524.7,174.0 529.7,173.6 533.5,174.2C537.3,174.9 540.2,175.4 543.5,176.7C546.9,178.1 550.7,182.3 553.6,182.5C556.5,182.7 558.2,180.4 561.1,178.0C564.1,175.6 568.3,170.3 571.2,168.0C574.1,165.6 575.4,163.3 578.7,164.2C582.1,165.0 587.9,172.6 591.3,173.0C594.6,173.4 596.3,168.6 598.8,166.7C601.3,164.8 603.9,161.7 606.4,161.7C608.9,161.7 611.0,165.2 613.9,166.7C616.8,168.2 620.2,169.9 624.0,170.5C627.7,171.0 632.3,169.8 636.5,170.0C640.7,170.2 645.7,170.0 649.1,171.7C652.4,173.5 653.7,178.6 656.6,180.5C659.6,182.4 663.6,181.0 666.7,183.0C669.8,185.1 672.8,188.2 675.1,192.8C677.3,197.3 678.0,203.2 680.1,210.4C682.2,217.5 685.1,228.8 687.6,235.5C690.2,242.2 692.7,246.6 695.2,250.6C697.7,254.5 700.4,257.3 702.7,259.4C705.0,261.5 707.1,263.6 709.0,263.1C710.9,262.7 712.1,259.8 714.0,256.8C715.9,253.9 718.0,248.5 720.3,245.5C722.6,242.6 725.3,240.9 727.8,239.3C730.4,237.6 732.5,236.5 735.4,235.5C738.3,234.4 742.5,234.9 745.4,233.0C748.4,231.1 750.5,227.5 753.0,224.2C755.5,220.8 758.0,215.5 760.5,212.9C763.0,210.2 764.7,209.0 768.1,208.4C771.4,207.7 776.4,208.6 780.6,209.1C784.8,209.6 789.8,210.6 793.2,211.6C796.5,212.7 798.2,213.5 800.7,215.4C803.2,217.3 805.3,221.0 808.3,222.9C811.2,224.8 815.0,226.7 818.3,226.7C821.7,226.7 825.4,222.1 828.4,222.9C831.3,223.8 833.0,228.8 835.9,231.7C838.8,234.7 842.6,238.0 846.0,240.5C849.3,243.0 852.9,245.5 856.0,246.8C859.2,248.1 862.3,247.0 864.8,248.1C867.3,249.1 868.4,251.6 871.1,253.1C873.8,254.5 877.8,256.4 881.1,256.8C884.5,257.3 887.8,255.8 891.2,255.6C894.5,255.4 897.9,256.4 901.2,255.6C904.6,254.8 907.9,253.1 911.3,250.6C914.6,248.1 918.0,244.5 921.3,240.5C924.7,236.5 928.0,231.7 931.4,226.7C934.7,221.7 938.1,215.8 941.4,210.4C944.8,204.9 948.1,197.8 951.5,194.0C954.9,190.3 958.2,188.6 961.6,187.7C964.9,186.9 968.3,187.5 971.6,189.0C975.0,190.5 977.4,192.4 981.7,196.5C985.9,200.7 993.0,208.5 997.0,213.7C1001.0,218.9 1002.7,224.6 1005.5,227.9C1008.3,231.2 1010.7,232.8 1014.0,233.6C1017.3,234.3 1022.3,232.8 1025.3,232.1C1028.4,231.4 1029.6,228.6 1032.4,229.3C1035.3,230.0 1038.8,233.8 1042.3,236.4C1045.9,239.0 1049.4,242.3 1053.7,244.9C1057.9,247.5 1064.8,252.7 1067.9,252.0C1070.9,251.3 1070.5,243.1 1072.1,240.6C1073.8,238.1 1075.6,236.0 1077.8,237.0C1079.9,237.9 1082.5,244.3 1084.9,246.3C1087.2,248.3 1089.1,249.9 1091.9,249.1C1094.8,248.4 1098.3,242.5 1101.9,242.1C1105.4,241.6 1109.2,244.7 1113.2,246.3C1117.2,248.0 1122.4,253.2 1126.0,252.0C1129.5,250.8 1131.4,242.5 1134.5,239.2C1137.5,235.9 1141.5,233.7 1144.4,232.1C1147.2,230.6 1148.6,229.7 1151.5,230.2C1154.3,230.6 1157.8,233.0 1161.4,235.0C1164.9,237.0 1168.9,240.3 1172.7,242.1C1176.5,243.8 1180.3,245.7 1184.0,245.5C1187.8,245.2 1192.1,240.7 1195.4,240.6C1198.7,240.5 1201.1,243.0 1203.9,244.9C1206.7,246.8 1209.6,249.6 1212.4,252.0C1215.2,254.3 1218.1,255.5 1220.9,259.1C1223.7,262.6 1226.6,268.8 1229.4,273.2C1232.2,277.7 1235.1,283.3 1237.9,286.0C1240.7,288.7 1243.6,288.9 1246.4,289.4C1249.2,289.9 1253.5,288.9 1254.9,288.8" stroke="#ff8000" stroke-opacity="0.55" stroke-width="1.4" fill="none" stroke-linejoin="round"/>
<path d="M10.0,116.4C10.8,119.4 13.4,129.4 15.0,134.0C16.7,138.6 18.2,141.4 20.1,144.1C21.9,146.8 24.4,150.1 26.3,150.4C28.2,150.7 29.9,146.3 31.4,145.8C32.8,145.4 33.7,146.9 35.1,147.8C36.6,148.8 38.7,152.7 40.2,151.6C41.6,150.6 42.7,144.1 43.9,141.6C45.2,139.1 46.2,137.7 47.7,136.5C49.2,135.4 51.3,133.9 52.7,134.8C54.2,135.6 55.2,138.1 56.5,141.6C57.7,145.0 58.6,151.2 60.3,155.4C61.9,159.6 64.7,163.8 66.5,166.7C68.4,169.6 69.9,169.8 71.6,173.0C73.2,176.1 74.7,182.9 76.6,185.5C78.5,188.1 81.0,189.4 82.9,188.6C84.8,187.7 86.2,182.9 87.9,180.5C89.6,178.1 91.3,174.9 92.9,174.2C94.6,173.6 96.3,175.3 98.0,176.7C99.6,178.2 101.1,180.3 103.0,183.0C104.9,185.8 107.8,191.2 109.3,193.1C110.7,195.0 110.7,196.0 111.8,194.3C112.8,192.7 114.1,187.2 115.5,183.0C117.0,178.8 118.9,171.9 120.6,169.2C122.2,166.5 123.9,166.5 125.6,166.7C127.3,166.9 128.9,169.6 130.6,170.5C132.3,171.3 134.0,170.5 135.6,171.7C137.3,173.0 139.2,176.7 140.7,178.0C142.1,179.3 143.2,175.9 144.4,179.3C145.7,182.6 146.7,192.5 148.2,198.1C149.7,203.8 151.6,209.6 153.2,213.2C154.9,216.7 156.6,217.2 158.3,219.5C159.9,221.8 161.7,226.4 163.3,227.0C164.9,227.6 166.6,221.8 167.8,223.2C169.1,224.7 169.5,232.0 170.8,235.8C172.2,239.6 174.0,242.9 175.9,245.9C177.7,248.8 180.3,252.6 182.1,253.4C184.0,254.2 185.6,253.0 187.2,250.9C188.7,248.8 190.0,245.9 191.4,240.8C192.9,235.8 194.6,228.7 196.0,220.7C197.3,212.8 198.3,200.8 199.7,193.1C201.2,185.3 202.9,178.4 204.8,174.2C206.6,170.0 208.7,170.3 211.0,168.0C213.3,165.6 216.1,162.3 218.6,160.4C221.1,158.5 224.0,158.3 226.1,156.6C228.2,155.0 229.3,152.5 231.1,150.4C233.0,148.3 235.3,145.4 237.4,144.1C239.5,142.7 241.4,142.3 243.7,142.3C246.0,142.3 248.9,142.7 251.2,144.1C253.5,145.4 255.4,147.2 257.5,150.4C259.6,153.5 261.9,158.3 263.8,162.9C265.7,167.5 267.2,173.4 268.8,178.0C270.5,182.6 272.4,189.7 273.9,190.6C275.3,191.4 276.4,186.0 277.6,183.0C278.9,180.1 280.1,175.3 281.4,173.0C282.7,170.7 283.9,169.2 285.2,169.2C286.4,169.2 287.5,169.8 288.9,173.0C290.4,176.1 292.3,182.6 294.0,188.1C295.6,193.5 297.1,200.4 299.0,205.6C300.9,210.9 303.4,216.5 305.3,219.5C307.2,222.4 308.6,224.1 310.3,223.2C312.0,222.4 313.6,216.1 315.3,214.4C317.0,212.8 318.5,211.3 320.3,213.2C322.1,215.1 324.5,225.3 326.1,225.7C327.8,226.2 328.6,219.5 330.4,215.7C332.2,211.9 334.8,207.3 336.7,203.1C338.6,198.9 340.3,194.5 341.7,190.6C343.1,186.6 343.6,182.0 345.0,179.3C346.5,176.5 348.9,174.7 350.6,174.2C352.2,173.8 353.5,175.3 355.1,176.7C356.7,178.2 358.6,181.1 360.1,183.0C361.6,185.0 362.6,187.4 363.9,188.6C365.1,189.7 366.2,189.9 367.6,190.1C369.1,190.2 370.6,189.6 372.7,189.6C374.8,189.6 377.7,189.7 380.2,190.1C382.7,190.4 385.2,192.4 387.7,191.8C390.3,191.3 392.8,187.4 395.3,186.8C397.8,186.2 400.3,187.0 402.8,188.1C405.3,189.1 408.3,191.4 410.4,193.1C412.5,194.8 413.3,196.0 415.4,198.1C417.5,200.2 420.8,203.6 422.9,205.6C425.0,207.7 426.1,209.0 428.0,210.7C429.8,212.3 432.4,216.5 434.2,215.7C436.1,214.9 437.8,211.5 439.3,205.6C440.7,199.8 441.8,188.9 443.0,180.5C444.3,172.1 445.5,162.7 446.8,155.4C448.1,148.1 449.4,140.5 450.6,136.5C451.7,132.6 452.3,131.9 453.6,131.5C454.8,131.1 456.5,133.0 458.1,134.0C459.7,135.1 461.5,136.3 463.1,137.8C464.8,139.3 466.1,141.6 468.2,142.8C470.3,144.1 473.2,145.1 475.7,145.3C478.2,145.5 480.7,143.5 483.2,144.1C485.8,144.7 488.5,147.2 490.8,149.1C493.1,151.0 495.0,152.2 497.1,155.4C499.2,158.5 501.0,164.0 503.3,168.0C505.6,171.9 508.4,177.2 510.9,179.3C513.4,181.4 515.9,180.7 518.4,180.5C520.9,180.3 523.4,179.2 526.0,178.0C528.5,176.8 531.0,173.7 533.5,173.5C536.0,173.3 538.5,175.8 541.0,176.7C543.5,177.7 546.5,178.0 548.6,179.3C550.7,180.5 551.9,184.1 553.6,184.3C555.3,184.5 556.5,183.4 558.6,180.5C560.7,177.6 564.1,170.5 566.2,166.7C568.3,162.9 569.4,160.4 571.2,157.9C572.9,155.4 575.0,150.8 576.7,151.6C578.4,152.5 579.4,159.4 581.2,162.9C583.0,166.5 585.6,170.7 587.5,173.0C589.4,175.3 590.9,178.0 592.5,176.7C594.2,175.5 595.9,169.0 597.6,165.4C599.3,161.9 601.1,157.5 602.6,155.4C604.1,153.3 605.1,152.0 606.4,152.9C607.6,153.7 608.5,157.9 610.1,160.4C611.8,162.9 614.1,166.1 616.4,168.0C618.7,169.8 621.4,171.3 624.0,171.7C626.5,172.1 628.6,170.8 631.5,170.5C634.4,170.2 638.8,169.5 641.6,170.0C644.3,170.4 645.9,170.4 647.8,173.0C649.7,175.6 651.2,182.4 652.9,185.5C654.5,188.7 656.0,191.4 657.9,191.8C659.8,192.2 661.9,188.9 664.2,188.1C666.5,187.2 670.1,184.8 671.7,186.8C673.3,188.8 672.8,194.7 673.8,200.3C674.8,205.9 676.1,212.5 677.6,220.4C679.1,228.4 680.9,239.7 682.6,248.1C684.3,256.4 686.2,265.0 687.6,270.7C689.1,276.3 690.2,279.5 691.4,282.0C692.7,284.4 693.7,285.0 695.2,285.2C696.6,285.5 698.3,284.8 700.2,283.2C702.1,281.6 704.6,278.6 706.5,275.7C708.4,272.8 709.8,269.8 711.5,265.6C713.2,261.5 714.7,255.2 716.5,250.6C718.4,246.0 720.5,241.6 722.8,238.0C725.1,234.4 728.3,231.3 730.4,229.2C732.5,227.1 733.7,224.8 735.4,225.4C737.1,226.1 738.5,232.6 740.4,233.0C742.3,233.4 744.8,231.3 746.7,228.0C748.6,224.6 749.8,217.7 751.7,212.9C753.6,208.1 756.1,202.2 758.0,199.1C759.9,195.9 761.4,194.2 763.0,194.0C764.7,193.8 766.0,195.9 768.1,197.8C770.2,199.7 773.1,203.7 775.6,205.3C778.1,207.0 780.6,207.0 783.1,207.8C785.6,208.7 788.4,209.3 790.7,210.4C793.0,211.4 795.1,211.4 797.0,214.1C798.8,216.9 800.3,223.6 802.0,226.7C803.7,229.8 805.1,231.8 807.0,233.0C808.9,234.1 811.0,233.3 813.3,233.5C815.6,233.7 818.9,235.4 820.8,234.2C822.7,233.1 823.3,228.6 824.6,226.7C825.9,224.8 826.9,221.7 828.4,222.9C829.8,224.2 831.5,230.5 833.4,234.2C835.3,238.0 837.6,242.4 839.7,245.5C841.8,248.7 843.7,251.4 846.0,253.1C848.3,254.8 851.2,255.6 853.5,255.6C855.8,255.6 857.9,254.5 859.8,253.1C861.7,251.6 863.1,246.4 864.8,246.8C866.5,247.2 867.9,253.1 869.8,255.6C871.7,258.1 873.8,261.5 876.1,261.9C878.4,262.3 881.1,259.2 883.7,258.1C886.2,257.1 888.7,255.8 891.2,255.6C893.7,255.4 896.0,258.1 898.7,256.8C901.5,255.6 904.6,251.0 907.5,248.1C910.5,245.1 913.6,242.6 916.3,239.3C919.0,235.9 921.3,232.3 923.9,228.0C926.4,223.6 928.9,217.9 931.4,212.9C933.9,207.8 936.4,203.0 938.9,197.8C941.4,192.6 944.4,185.4 946.5,181.5C948.6,177.5 949.6,175.2 951.5,173.9C953.4,172.7 955.7,173.3 957.8,173.9C959.9,174.6 962.0,176.0 964.1,177.7C966.2,179.4 968.3,181.3 970.3,184.0C972.4,186.7 974.3,191.3 976.6,194.0C978.9,196.7 982.1,197.2 984.2,200.3C986.3,203.5 988.0,210.2 989.2,212.9C990.4,215.6 990.3,213.6 991.3,216.5C992.4,219.5 994.2,225.8 995.6,230.7C997.0,235.7 998.2,242.5 999.8,246.3C1001.5,250.1 1003.6,253.4 1005.5,253.4C1007.4,253.4 1009.0,248.1 1011.2,246.3C1013.3,244.5 1015.9,244.8 1018.3,242.6C1020.6,240.5 1023.0,235.6 1025.3,233.6C1027.7,231.5 1030.3,229.2 1032.4,230.2C1034.6,231.1 1036.0,236.5 1038.1,239.2C1040.2,241.9 1042.6,243.7 1045.2,246.3C1047.8,248.9 1050.9,252.9 1053.7,254.8C1056.5,256.7 1059.7,257.4 1062.2,257.7C1064.6,257.9 1066.8,259.8 1068.4,256.2C1070.1,252.7 1070.8,240.6 1072.1,236.4C1073.4,232.1 1074.9,230.2 1076.4,230.7C1077.8,231.2 1079.2,235.4 1080.6,239.2C1082.0,243.0 1083.2,249.6 1084.9,253.4C1086.5,257.2 1088.9,262.1 1090.5,261.9C1092.2,261.7 1093.1,255.8 1094.8,252.0C1096.4,248.2 1098.6,240.6 1100.4,239.2C1102.3,237.8 1104.0,241.8 1106.1,243.5C1108.2,245.1 1110.6,247.3 1113.2,249.1C1115.8,251.0 1119.6,253.6 1121.7,254.8C1123.8,256.0 1124.3,258.4 1126.0,256.2C1127.6,254.1 1129.7,247.0 1131.6,242.1C1133.5,237.1 1135.2,229.9 1137.3,226.5C1139.4,223.1 1142.0,221.9 1144.4,221.6C1146.7,221.4 1149.1,223.3 1151.5,225.1C1153.8,226.8 1156.2,228.8 1158.5,232.1C1160.9,235.4 1163.3,242.1 1165.6,244.9C1168.0,247.7 1170.1,248.7 1172.7,249.1C1175.3,249.6 1178.4,248.4 1181.2,247.7C1184.0,247.0 1187.1,246.6 1189.7,244.9C1192.3,243.2 1194.7,237.1 1196.8,237.8C1198.9,238.5 1200.3,245.6 1202.5,249.1C1204.6,252.7 1207.2,256.5 1209.6,259.1C1211.9,261.7 1214.3,261.4 1216.6,264.7C1219.0,268.0 1221.4,274.0 1223.7,278.9C1226.1,283.9 1228.7,290.5 1230.8,294.5C1232.9,298.5 1234.6,301.1 1236.5,303.0C1238.4,304.9 1240.3,306.6 1242.1,305.9C1244.0,305.1 1246.2,300.9 1247.8,298.8C1249.5,296.6 1250.9,294.5 1252.1,293.1C1253.2,291.7 1254.4,290.7 1254.9,290.3" stroke="#ff0000" stroke-opacity="0.55" stroke-width="1.4" fill="none" stroke-linejoin="round"/>
<path d="M13,287.5H1255" stroke="#43a948" stroke-width="1" stroke-dasharray="1,2" shape-rendering="crispEdges"/>
<circle cx="1255.6" cy="454.4" r="9.8" fill="#fff" stroke="#9c27b0" stroke-width="1.5"/>
<path d="M1251.2,454.6L1255,451.6V455.2ZM1251.9,459.6L1255,455.4V458.4L1253,460.2Z" fill="#9c27b0"/>
</g>
<g clip-path="url(#cr)">
<rect x="11" y="527.5" width="1244" height="102.0" fill="#7e57c2" fill-opacity="0.1"/>
<path d="M11,527.5H1255M11,629.5H1255" stroke="#787b86" stroke-width="1" stroke-dasharray="6.3,4.7" fill="none"/>
<path d="M11,578.5H1255" stroke="#787b86" stroke-opacity="0.55" stroke-width="1" stroke-dasharray="6.3,4.7" fill="none"/>
<path d="M192.1,527.5L192.9,511.4L194.4,517.7L196.0,492.1L197.0,512.7L198.5,508.9L200.0,507.1L201.5,515.2L202.3,527.5ZM203.6,527.5L204.0,526.5L204.0,527.5ZM231.4,527.5L231.6,526.5L233.1,522.7L233.2,527.5ZM348.3,527.5L348.5,525.2L350.1,516.4L350.4,527.5ZM439.6,527.5L440.5,505.1L441.8,490.6L443.0,502.6L444.0,493.8L445.0,507.6L446.5,525.2L448.1,511.4L449.1,515.2L449.6,527.5ZM712.3,527.5L713.2,520.2L714.0,511.4L714.5,527.5ZM754.7,527.5L755.9,520.2L758.0,510.7L758.4,527.5ZM823.0,527.5L823.3,518.9L824.8,526.5L826.3,517.7L827.3,508.1L827.6,527.5ZM921.8,527.5L922.3,520.2L923.8,514.4L924.2,527.5ZM927.9,527.5L929.3,522.7L930.1,527.5ZM933.7,527.5L933.9,526.5L934.9,512.7L936.4,522.7L937.9,517.7L939.4,518.9L939.9,527.5ZM942.5,527.5L943.9,511.4L945.2,521.5L945.9,515.2L946.4,527.5ZM948.4,527.5L948.4,526.5L948.5,527.5ZM1068.4,527.5L1068.9,512.7L1069.9,496.3L1071.1,494.6L1072.3,527.5ZM1135.7,527.5L1135.9,526.5L1136.1,527.5ZM1170.8,527.5L1170.9,521.5L1171.0,527.5Z" fill="#4caf50" fill-opacity="0.15"/>
<path d="M13.5,629.5L13.8,630.8L15.5,633.8L16.1,629.5ZM56.2,629.5L56.7,645.9L57.4,629.5ZM145.6,629.5L145.9,644.6L146.6,629.5ZM293.8,629.5L294.0,630.8L295.0,647.9L296.0,629.5ZM300.1,629.5L301.0,639.6L301.7,629.5ZM497.1,629.5L497.1,629.5L498.3,630.8L499.8,630.8L499.9,629.5ZM508.9,629.5L508.9,629.5L508.9,629.5ZM550.6,629.5L551.1,647.9L552.3,630.8L552.4,629.5ZM655.4,629.5L655.9,633.3L656.0,629.5ZM673.3,629.5L674.0,650.9L675.5,640.8L676.5,629.5ZM677.8,629.5L678.5,635.8L680.1,661.4L681.6,635.8L682.8,629.5ZM799.0,629.5L799.2,633.3L799.6,629.5ZM994.5,629.5L994.7,635.8L995.3,629.5ZM997.0,629.5L997.7,637.1L998.9,643.3L999.8,629.5ZM1046.6,629.5L1047.2,632.0L1048.8,642.1L1049.0,629.5ZM1086.9,629.5L1086.9,630.8L1087.0,629.5ZM1165.7,629.5L1165.9,630.8L1167.1,635.3L1167.5,629.5ZM1220.1,629.5L1220.1,629.5L1221.6,630.8L1223.1,630.8L1224.7,650.9L1226.2,660.9L1227.2,669.7L1228.2,640.8L1229.3,629.5ZM1230.1,629.5L1230.7,630.8L1231.7,640.8L1232.9,645.9L1234.1,629.5Z" fill="#f23645" fill-opacity="0.15"/>
<path d="M10.0,599.4C10.6,601.7 12.5,609.4 13.8,613.2C15.0,617.0 16.3,619.9 17.5,622.0C18.8,624.1 20.1,626.2 21.3,625.7C22.6,625.3 23.8,623.2 25.1,619.5C26.3,615.7 27.6,607.9 28.8,603.1C30.1,598.3 31.4,594.1 32.6,590.6C33.9,587.0 35.1,583.7 36.4,581.8C37.6,579.9 38.9,580.7 40.2,579.3C41.4,577.8 42.7,575.5 43.9,573.0C45.2,570.5 46.4,566.4 47.7,564.2C49.0,562.0 50.3,560.1 51.5,559.9C52.6,559.7 53.7,559.5 54.7,562.9C55.8,566.4 56.6,574.9 57.7,580.5C58.9,586.2 60.3,592.7 61.5,596.8C62.8,601.0 64.2,605.0 65.3,605.6C66.4,606.3 67.3,602.2 68.3,600.6C69.3,599.0 70.4,596.1 71.6,596.1C72.7,596.1 74.1,599.4 75.3,600.6C76.6,601.9 77.8,603.0 79.1,603.6C80.4,604.3 81.6,606.1 82.9,604.4C84.1,602.6 85.4,597.5 86.6,593.1C87.9,588.7 89.2,582.6 90.4,578.0C91.7,573.4 93.1,568.2 94.2,565.4C95.2,562.7 95.9,561.0 96.7,561.7C97.5,562.3 98.2,566.3 99.2,569.2C100.3,572.1 101.7,575.7 103.0,579.3C104.2,582.8 105.6,587.4 106.7,590.6C107.9,593.7 109.0,598.1 110.0,598.1C111.1,598.1 111.9,594.8 113.0,590.6C114.2,586.4 115.5,579.3 116.8,573.0C118.1,566.7 119.4,557.3 120.6,552.9C121.7,548.5 122.5,546.0 123.6,546.6C124.6,547.2 125.7,553.1 126.9,556.6C128.0,560.2 129.4,564.2 130.6,568.0C131.9,571.7 133.1,576.1 134.4,579.3C135.6,582.4 136.9,584.9 138.2,586.8C139.4,588.7 140.7,589.3 141.9,590.6C143.2,591.8 144.4,592.9 145.7,594.3C147.0,595.8 148.2,598.7 149.5,599.4C150.7,600.0 152.0,597.3 153.2,598.1C154.5,598.9 155.8,603.8 157.0,604.4C158.3,605.0 159.5,604.0 160.8,601.9C162.0,599.8 163.5,593.9 164.5,591.8C165.6,589.7 166.0,589.3 167.1,589.3C168.1,589.3 169.6,590.8 170.8,591.8C172.1,592.9 173.4,593.7 174.6,595.6C175.8,597.5 176.8,601.5 177.9,603.1C178.9,604.8 179.7,606.5 180.9,605.6C182.0,604.8 183.4,601.5 184.6,598.1C185.9,594.8 187.2,590.4 188.4,585.5C189.7,580.7 190.9,575.5 192.2,569.2C193.4,562.9 194.7,554.8 196.0,547.8C197.2,540.9 198.6,533.0 199.7,527.7C200.9,522.5 202.0,518.1 203.0,516.4C204.0,514.8 204.6,515.4 205.5,517.7C206.4,520.0 207.4,525.9 208.5,530.3C209.7,534.7 211.0,540.3 212.3,544.1C213.5,547.8 214.6,551.0 216.1,552.9C217.5,554.8 219.4,554.8 221.1,555.4C222.8,556.0 224.6,557.3 226.1,556.6C227.6,556.0 228.6,553.3 229.9,551.6C231.1,549.9 232.4,546.6 233.7,546.6C234.9,546.6 236.2,550.8 237.4,551.6C238.7,552.5 239.9,549.3 241.2,551.6C242.4,553.9 243.7,562.5 245.0,565.4C246.2,568.4 247.5,567.5 248.7,569.2C250.0,570.9 251.2,572.8 252.5,575.5C253.8,578.2 255.0,582.4 256.3,585.5C257.5,588.7 258.8,591.0 260.0,594.3C261.3,597.7 262.5,602.5 263.8,605.6C265.1,608.8 266.3,611.3 267.6,613.2C268.8,615.1 270.1,616.1 271.3,617.0C272.6,617.8 273.9,620.9 275.1,618.2C276.4,615.5 277.6,607.3 278.9,600.6C280.1,593.9 281.5,584.5 282.7,578.0C283.8,571.5 285.1,564.8 285.9,561.7C286.8,558.5 286.8,558.1 287.7,559.2C288.5,560.2 289.9,563.6 290.9,568.0C292.0,572.3 292.8,578.8 294.0,585.5C295.1,592.2 296.5,602.3 297.7,608.2C299.0,614.0 300.5,618.4 301.5,620.7C302.5,623.0 303.0,623.2 304.0,622.0C305.1,620.7 306.5,616.7 307.8,613.2C309.0,609.6 310.3,605.2 311.6,600.6C312.8,596.0 314.1,589.7 315.3,585.5C316.5,581.4 317.5,577.7 318.6,575.5C319.6,573.3 320.6,571.2 321.6,572.5C322.6,573.7 323.6,580.3 324.6,583.0C325.7,585.7 326.7,588.3 327.9,588.6C329.1,588.8 330.4,587.5 331.7,584.3C332.9,581.1 334.2,574.9 335.4,569.2C336.7,563.6 337.9,554.8 339.2,550.4C340.5,546.0 341.6,544.7 343.0,542.8C344.4,540.9 346.3,539.9 347.5,539.1C348.8,538.2 349.5,536.5 350.6,537.8C351.6,539.1 352.6,543.7 353.8,546.6C355.0,549.5 356.3,551.4 357.6,555.4C358.8,559.4 360.3,565.6 361.4,570.5C362.4,575.3 362.9,581.4 363.9,584.3C364.8,587.2 366.1,586.3 367.1,588.1C368.2,589.9 369.0,595.1 370.2,595.1C371.3,595.1 372.7,590.5 373.9,588.1C375.2,585.6 376.4,582.0 377.7,580.5C379.0,579.0 380.2,579.6 381.5,579.3C382.7,578.9 383.8,577.9 385.2,578.5C386.7,579.1 388.8,582.9 390.3,583.0C391.7,583.2 392.6,580.2 394.0,579.3C395.5,578.3 397.4,578.3 399.1,577.5C400.7,576.7 402.4,573.7 404.1,574.2C405.8,574.7 407.6,578.0 409.1,580.5C410.6,583.0 411.6,586.8 412.9,589.3C414.1,591.8 415.5,595.0 416.6,595.6C417.8,596.2 418.7,592.5 419.9,593.1C421.2,593.7 422.8,598.1 424.2,599.4C425.5,600.6 426.6,600.2 428.0,600.6C429.3,601.0 431.0,603.1 432.5,601.9C433.9,600.6 435.4,598.7 436.7,593.1C438.1,587.4 439.4,575.9 440.5,568.0C441.6,560.0 442.5,553.3 443.5,545.3C444.6,537.4 445.8,525.4 446.8,520.2C447.8,515.0 448.3,514.8 449.3,513.9C450.3,513.1 451.6,513.3 452.6,515.2C453.5,517.1 454.2,520.6 455.1,525.2C456.0,529.8 457.0,537.0 458.1,542.8C459.2,548.7 460.6,555.0 461.9,560.4C463.1,565.9 464.4,572.1 465.6,575.5C466.9,578.8 468.0,579.3 469.4,580.5C470.9,581.8 472.8,583.2 474.4,583.0C476.1,582.8 477.9,580.5 479.5,579.3C481.0,578.0 482.3,575.3 483.7,575.5C485.2,575.7 486.8,579.3 488.3,580.5C489.8,581.8 491.4,580.9 492.8,583.0C494.1,585.1 495.0,589.5 496.3,593.1C497.6,596.6 499.4,601.7 500.8,604.4C502.2,607.1 503.3,608.8 504.6,609.4C505.9,610.0 507.4,609.2 508.9,608.2C510.3,607.1 512.0,604.8 513.4,603.1C514.8,601.5 515.9,599.4 517.2,598.1C518.4,596.8 519.7,598.1 520.9,595.6C522.2,593.1 523.4,587.2 524.7,583.0C526.0,578.8 527.2,574.1 528.5,570.5C529.7,566.8 531.0,562.0 532.2,560.9C533.5,559.9 534.8,562.2 536.0,564.2C537.3,566.2 538.5,569.6 539.8,573.0C541.0,576.3 542.5,582.0 543.5,584.3C544.6,586.6 545.0,587.0 546.1,586.8C547.1,586.6 548.7,582.0 549.8,583.0C551.0,584.1 552.0,592.9 553.1,593.1C554.1,593.3 555.0,587.0 556.1,584.3C557.2,581.6 558.6,580.3 559.9,576.7C561.1,573.2 562.4,566.7 563.7,562.9C564.9,559.2 566.2,556.2 567.4,554.1C568.7,552.0 569.8,551.4 571.2,550.4C572.5,549.3 574.2,546.6 575.5,547.8C576.7,549.1 577.6,553.3 578.7,557.9C579.9,562.5 581.2,569.6 582.5,575.5C583.8,581.4 585.0,588.1 586.3,593.1C587.5,598.1 588.8,606.1 590.0,605.6C591.3,605.2 592.5,596.0 593.8,590.6C595.1,585.1 596.3,578.8 597.6,573.0C598.8,567.1 600.1,560.2 601.3,555.4C602.6,550.6 603.9,544.5 605.1,544.1C606.3,543.7 607.3,548.9 608.4,552.9C609.4,556.9 610.3,562.5 611.4,568.0C612.5,573.4 614.0,580.7 615.2,585.5C616.3,590.4 617.4,594.8 618.4,596.8C619.5,598.9 620.3,598.9 621.4,598.1C622.6,597.3 624.0,594.3 625.2,591.8C626.5,589.3 627.7,585.8 629.0,583.0C630.2,580.3 631.5,577.6 632.8,575.5C634.0,573.4 635.3,570.0 636.5,570.5C637.8,570.9 639.0,576.1 640.3,578.0C641.6,579.9 642.8,580.5 644.1,581.8C645.3,583.0 646.6,584.1 647.8,585.5C649.1,587.0 650.3,587.2 651.6,590.6C652.9,593.9 654.2,602.4 655.4,605.6C656.5,608.9 657.6,610.0 658.6,610.2C659.7,610.4 660.5,610.2 661.7,606.9C662.8,603.6 664.3,596.0 665.4,590.6C666.6,585.1 667.6,577.2 668.7,574.2C669.7,571.3 670.8,571.1 671.7,573.0C672.6,574.9 673.2,579.7 674.2,585.5C675.2,591.4 676.6,601.9 677.5,608.2C678.5,614.4 679.2,619.0 680.1,623.2C680.9,627.4 681.8,631.0 682.6,633.3C683.3,635.6 683.7,637.7 684.6,637.1C685.4,636.4 686.5,631.4 687.6,629.5C688.7,627.6 690.1,628.9 691.4,625.7C692.6,622.6 693.9,615.3 695.1,610.7C696.4,606.1 697.6,602.1 698.9,598.1C700.2,594.1 701.4,590.4 702.7,586.8C703.9,583.2 705.2,580.3 706.4,576.7C707.7,573.2 709.0,569.8 710.2,565.4C711.5,561.0 712.7,554.3 714.0,550.4C715.2,546.4 716.5,543.6 717.7,541.6C719.0,539.6 720.3,538.3 721.5,538.3C722.8,538.3 723.8,540.0 725.3,541.6C726.8,543.2 728.6,546.0 730.3,547.8C732.1,549.7 734.4,549.9 735.8,552.9C737.3,555.8 737.9,561.5 739.1,565.4C740.3,569.4 741.7,574.2 742.9,576.7C744.0,579.3 744.8,580.7 745.9,580.5C746.9,580.3 748.0,578.8 749.2,575.5C750.3,572.1 751.7,565.9 752.9,560.4C754.2,555.0 755.6,547.2 756.7,542.8C757.7,538.4 758.2,534.9 759.2,534.0C760.3,533.2 761.7,535.7 763.0,537.8C764.2,539.9 765.7,542.4 766.7,546.6C767.8,550.8 768.2,557.3 769.3,562.9C770.3,568.6 771.8,576.1 773.0,580.5C774.3,584.9 775.6,587.0 776.8,589.3C778.0,591.6 779.0,594.3 780.1,594.3C781.1,594.3 782.0,590.6 783.1,589.3C784.2,588.1 785.6,587.0 786.9,586.8C788.1,586.6 789.4,588.1 790.6,588.1C791.9,588.1 793.1,586.4 794.4,586.8C795.6,587.2 796.9,588.3 798.2,590.6C799.4,592.9 800.7,597.3 801.9,600.6C803.2,604.0 804.7,608.6 805.7,610.7C806.7,612.8 807.2,614.0 808.2,613.2C809.3,612.3 810.7,609.4 812.0,605.6C813.2,601.9 814.5,593.9 815.8,590.6C817.0,587.2 818.3,587.4 819.5,585.5C820.8,583.7 822.2,582.2 823.3,579.3C824.4,576.3 825.4,571.5 826.3,568.0C827.2,564.4 827.9,558.7 828.8,557.9C829.8,557.1 830.9,560.0 832.1,562.9C833.3,565.9 834.7,570.0 835.9,575.5C837.0,580.9 837.8,590.8 838.9,595.6C839.9,600.4 841.0,603.3 842.1,604.4C843.3,605.4 844.6,602.9 845.9,601.9C847.2,600.8 848.4,599.2 849.7,598.1C850.9,597.1 852.2,597.3 853.4,595.6C854.7,593.9 856.0,590.8 857.2,588.1C858.5,585.3 859.7,582.6 861.0,579.3C862.2,575.9 863.5,568.4 864.8,568.0C866.0,567.5 867.3,573.8 868.5,576.7C869.8,579.7 871.0,582.2 872.3,585.5C873.5,588.9 874.8,596.4 876.1,596.8C877.3,597.3 878.6,591.0 879.8,588.1C881.1,585.1 882.3,582.2 883.6,579.3C884.9,576.3 886.3,572.6 887.4,570.5C888.4,568.4 888.8,567.1 889.9,566.7C890.9,566.3 892.4,567.7 893.7,568.0C894.9,568.2 896.2,566.3 897.4,568.0C898.6,569.6 899.6,577.2 900.7,578.0C901.7,578.8 902.6,574.9 903.7,573.0C904.8,571.1 906.2,569.8 907.5,566.7C908.7,563.6 910.0,557.3 911.2,554.1C912.5,551.0 913.8,549.3 915.0,547.8C916.3,546.4 917.5,546.6 918.8,545.3C920.0,544.1 921.3,541.6 922.5,540.3C923.8,539.1 925.1,538.8 926.3,537.8C927.6,536.7 928.8,535.1 930.1,534.0C931.3,533.0 932.6,532.6 933.9,531.5C935.1,530.5 936.6,528.8 937.6,527.7C938.7,526.7 939.3,525.0 940.1,525.2C941.0,525.4 941.7,529.1 942.7,529.0C943.6,528.9 944.9,524.9 945.9,524.7C947.0,524.5 947.8,525.6 948.9,527.7C950.1,529.9 951.4,534.4 952.7,537.8C954.0,541.1 955.2,543.2 956.5,547.8C957.7,552.5 959.0,560.0 960.2,565.4C961.5,570.9 962.8,577.8 964.0,580.5C965.3,583.2 966.5,580.5 967.8,581.8C969.0,583.0 970.3,586.0 971.6,588.1C972.8,590.1 974.1,592.2 975.3,594.3C976.6,596.4 978.0,598.3 979.1,600.6C980.1,602.9 980.6,607.5 981.6,608.2C982.7,608.8 984.1,604.6 985.4,604.4C986.6,604.2 987.9,607.1 989.1,606.9C990.4,606.7 991.7,602.1 992.9,603.1C994.2,604.2 995.3,610.3 996.7,613.2C998.1,616.1 999.7,620.1 1001.2,620.7C1002.7,621.3 1004.3,619.5 1005.5,617.0C1006.6,614.4 1007.1,609.2 1008.0,605.6C1008.8,602.1 1009.6,599.8 1010.6,595.6C1011.5,591.4 1012.6,584.1 1013.8,580.5C1015.0,577.0 1016.3,576.5 1017.6,574.2C1018.8,571.9 1020.1,568.4 1021.4,566.7C1022.6,565.0 1023.9,564.8 1025.1,564.2C1026.4,563.6 1027.9,563.5 1028.9,562.9C1029.9,562.4 1030.4,559.7 1031.4,560.9C1032.4,562.2 1033.6,567.2 1034.7,570.5C1035.7,573.7 1036.6,577.6 1037.7,580.5C1038.8,583.4 1040.3,584.7 1041.5,588.1C1042.6,591.4 1043.5,596.8 1044.7,600.6C1046.0,604.4 1047.7,609.2 1049.0,610.7C1050.3,612.1 1051.5,610.3 1052.8,609.4C1054.0,608.6 1055.3,608.2 1056.5,605.6C1057.8,603.1 1059.1,596.4 1060.3,594.3C1061.6,592.2 1062.9,593.7 1064.1,593.1C1065.3,592.5 1066.2,593.9 1067.3,590.6C1068.5,587.2 1069.7,578.6 1070.9,573.0C1072.0,567.3 1073.0,560.3 1074.1,556.6C1075.2,553.0 1076.4,551.7 1077.4,551.1C1078.4,550.5 1079.5,549.6 1080.4,552.9C1081.3,556.1 1081.9,563.8 1082.9,570.5C1084.0,577.2 1085.6,587.6 1086.7,593.1C1087.7,598.5 1088.2,602.3 1089.2,603.1C1090.3,604.0 1091.7,601.9 1093.0,598.1C1094.2,594.3 1095.6,586.0 1096.7,580.5C1097.9,575.1 1099.0,568.5 1100.0,565.4C1101.1,562.4 1101.9,561.6 1103.0,562.4C1104.2,563.3 1105.5,567.2 1106.8,570.5C1108.1,573.7 1109.3,579.0 1110.6,581.8C1111.8,584.5 1113.1,585.5 1114.3,586.8C1115.6,588.1 1116.7,588.5 1118.1,589.3C1119.5,590.1 1121.2,592.9 1122.6,591.8C1124.1,590.8 1125.6,587.0 1126.9,583.0C1128.2,579.0 1129.4,573.2 1130.7,568.0C1131.9,562.7 1133.3,556.0 1134.4,551.6C1135.6,547.2 1136.7,543.5 1137.7,541.6C1138.8,539.6 1139.6,538.8 1140.7,539.8C1141.9,540.9 1143.2,544.8 1144.5,547.8C1145.8,550.9 1147.0,553.1 1148.3,557.9C1149.5,562.7 1150.8,571.7 1152.0,576.7C1153.3,581.8 1154.5,584.9 1155.8,588.1C1157.1,591.2 1158.3,593.5 1159.6,595.6C1160.8,597.7 1162.1,598.5 1163.3,600.6C1164.6,602.7 1166.1,606.5 1167.1,608.2C1168.2,609.8 1168.6,611.9 1169.6,610.7C1170.7,609.4 1172.1,604.4 1173.4,600.6C1174.6,596.8 1176.0,591.8 1177.2,588.1C1178.3,584.3 1179.4,579.7 1180.4,578.0C1181.5,576.3 1182.3,577.2 1183.4,578.0C1184.6,578.8 1186.0,582.4 1187.2,583.0C1188.5,583.7 1189.7,583.2 1191.0,581.8C1192.2,580.3 1193.5,576.6 1194.8,574.2C1196.0,571.8 1197.3,567.7 1198.5,567.4C1199.8,567.2 1201.1,569.5 1202.3,573.0C1203.5,576.4 1204.5,582.6 1205.6,588.1C1206.6,593.5 1207.6,601.8 1208.6,605.6C1209.6,609.5 1210.5,610.8 1211.6,611.2C1212.6,611.6 1213.7,609.5 1214.9,608.2C1216.0,606.8 1217.5,604.0 1218.6,603.1C1219.8,602.3 1220.6,601.0 1221.6,603.1C1222.7,605.2 1223.8,611.5 1224.9,615.7C1226.0,619.9 1227.1,624.5 1228.2,628.3C1229.2,632.0 1230.2,636.2 1231.2,638.3C1232.2,640.4 1233.2,641.2 1234.2,640.8C1235.3,640.4 1236.4,639.1 1237.5,635.8C1238.6,632.4 1239.7,626.6 1240.7,620.7C1241.8,614.9 1242.7,607.3 1243.8,600.6C1244.8,593.9 1245.7,586.4 1246.8,580.5C1247.8,574.7 1249.1,569.0 1250.0,565.4C1251.0,561.9 1251.7,560.8 1252.5,559.2C1253.4,557.5 1254.6,556.0 1255.0,555.4" stroke="#fdd835" stroke-width="1.2" fill="none"/>
<path d="M10.0,614.4L12.0,620.7L13.8,630.8L15.5,633.8L17.0,623.2L18.8,624.5L20.6,625.7L22.1,615.7L23.8,598.1L25.6,608.2L27.1,580.5L28.8,537.8L30.1,575.5L31.1,603.1L32.6,583.0L33.9,580.5L35.1,588.1L36.6,585.5L38.1,590.6L39.7,575.5L41.4,552.9L42.7,547.3L45.2,546.6L47.2,557.9L48.4,552.9L49.7,565.4L51.0,585.5L52.2,566.7L54.0,565.4L55.2,598.1L56.7,645.9L58.2,610.7L59.8,603.1L61.5,601.9L63.3,600.6L64.8,596.8L66.3,608.2L67.8,590.6L69.6,578.5L70.8,588.1L72.3,605.6L74.1,620.7L75.3,615.7L76.8,619.5L78.4,605.6L79.9,598.1L81.6,585.5L83.4,581.8L84.9,568.0L86.6,551.6L88.4,564.2L89.9,555.4L91.7,549.1L93.4,560.4L94.9,575.5L96.4,562.9L98.0,625.7L99.2,590.6L101.0,585.5L103.0,585.5L105.0,593.1L106.5,610.7L107.5,618.2L109.0,605.6L110.5,590.6L111.8,555.4L113.0,535.3L114.0,534.0L115.5,545.3L117.3,542.8L118.8,552.9L120.6,544.1L122.1,555.4L123.6,568.0L125.1,589.3L126.9,581.8L128.6,585.5L130.6,570.5L132.4,590.6L133.9,574.2L135.1,585.5L136.7,600.6L137.9,627.0L139.2,608.2L140.7,588.1L142.2,573.0L144.2,570.5L145.2,610.7L145.9,644.6L147.2,615.7L148.7,603.1L150.7,608.2L152.7,598.1L154.5,600.6L156.5,591.8L158.3,610.7L160.0,608.2L161.5,595.6L163.3,570.5L165.0,557.4L166.3,565.4L167.6,603.1L168.8,608.2L170.3,614.4L172.1,609.4L173.8,611.9L175.4,605.6L177.1,603.1L178.9,595.6L180.9,599.4L182.9,585.5L184.6,575.5L185.9,565.4L187.4,580.5L188.9,570.5L190.4,555.4L191.9,530.3L192.9,511.4L194.4,517.7L196.0,492.1L197.0,512.7L198.5,508.9L200.0,507.1L201.5,515.2L202.5,530.3L204.0,526.5L205.0,555.4L206.8,579.3L208.5,571.7L210.3,568.0L211.8,542.8L213.0,540.3L214.6,552.9L216.1,564.2L218.1,554.1L219.8,565.4L221.6,562.9L223.6,556.6L225.1,560.4L226.6,555.4L228.1,545.3L229.9,532.8L231.6,526.5L233.1,522.7L234.2,594.3L235.7,575.5L236.9,555.4L238.7,559.2L240.2,549.1L241.7,565.4L243.2,580.5L244.7,570.5L246.2,581.8L248.0,569.2L249.5,584.3L250.7,555.9L252.0,580.5L253.3,595.6L255.0,593.1L256.3,613.2L257.8,618.2L259.3,598.1L260.8,603.1L262.5,610.7L263.8,628.3L265.6,617.0L267.3,628.3L268.8,620.7L270.3,605.6L271.8,615.7L273.9,611.9L275.4,585.5L276.9,568.0L278.4,547.8L280.1,530.3L281.9,536.5L283.4,550.4L284.9,565.4L286.4,585.5L287.9,588.1L289.4,608.2L290.9,610.7L292.5,618.2L294.0,630.8L295.0,647.9L296.5,620.7L298.0,609.4L299.5,623.2L301.0,639.6L302.3,620.7L304.0,593.1L306.0,598.1L308.0,593.1L309.5,580.5L311.0,559.2L312.3,578.0L314.1,560.4L315.8,537.8L317.1,562.9L318.6,575.5L320.1,580.5L321.6,598.1L322.9,615.7L324.6,610.7L326.1,590.6L327.6,568.0L329.1,562.9L330.7,555.4L332.2,560.4L333.7,542.8L335.4,540.3L337.2,530.3L338.7,532.8L340.5,534.0L341.7,560.4L343.5,540.3L345.5,536.5L347.0,539.1L348.5,525.2L350.1,516.4L351.3,555.4L352.6,596.8L354.1,580.5L355.6,561.7L357.1,562.9L358.6,585.5L360.1,588.1L361.9,598.1L363.6,610.7L365.1,594.3L366.6,600.6L368.1,601.9L369.7,588.1L371.2,574.2L372.7,569.2L374.2,562.4L375.7,578.0L377.2,570.5L378.7,598.1L380.2,588.1L381.7,586.8L383.2,569.2L384.7,565.4L386.0,557.9L387.2,583.0L388.8,596.8L390.3,583.0L391.8,593.1L393.3,595.6L394.0,554.6L395.3,565.4L396.8,576.7L398.3,568.0L399.8,570.5L401.3,560.4L402.3,589.3L403.8,580.5L405.3,594.3L406.8,600.6L408.4,608.2L409.6,573.0L411.1,573.0L412.4,594.3L413.6,615.7L414.9,622.0L416.4,598.1L417.9,590.6L419.2,581.8L420.4,603.1L421.9,588.1L423.4,595.6L424.9,605.6L426.4,610.7L428.0,620.2L429.5,588.1L431.0,606.9L432.5,590.6L434.0,586.8L435.5,580.5L437.0,550.4L438.0,530.3L439.3,536.5L440.5,505.1L441.8,490.6L443.0,502.6L444.0,493.8L445.0,507.6L446.5,525.2L448.1,511.4L449.1,515.2L450.1,537.8L451.6,527.7L452.6,534.0L453.6,555.4L454.8,583.0L456.1,571.7L457.6,569.2L459.1,576.7L460.6,568.0L462.1,573.0L463.1,585.5L464.1,598.1L465.6,589.3L467.2,594.3L468.7,583.0L470.2,571.7L471.7,568.0L473.2,568.0L474.2,590.6L475.7,575.5L477.2,589.3L478.7,574.2L480.2,576.7L481.7,568.0L483.2,556.6L484.5,599.4L485.8,583.0L487.3,589.3L488.8,581.8L490.3,590.6L491.8,585.5L493.3,593.1L494.5,588.1L495.8,610.7L497.1,629.5L498.3,630.8L499.8,630.8L500.8,619.5L502.1,605.6L503.8,598.1L505.4,596.8L506.9,585.5L507.9,615.7L508.9,629.5L510.4,617.0L511.9,613.2L512.9,591.8L514.4,585.5L515.9,593.1L517.4,585.5L518.9,588.1L520.4,576.7L521.9,579.3L523.4,561.7L525.0,565.4L526.5,542.8L528.0,539.1L529.0,535.3L530.2,557.9L531.7,549.1L533.0,607.7L534.5,583.0L536.0,580.5L537.5,596.8L539.0,580.5L540.5,574.2L542.0,590.6L543.5,579.3L545.1,588.1L546.1,594.3L547.6,576.7L549.1,575.5L550.3,618.2L551.1,647.9L552.3,630.8L553.6,560.4L555.1,555.4L556.6,552.9L558.1,557.9L559.9,552.9L561.6,554.1L563.1,550.4L564.4,549.1L565.7,562.9L566.9,552.9L567.9,568.0L569.2,534.0L570.7,532.3L572.2,547.8L573.7,544.1L575.2,544.1L576.7,580.5L577.7,609.4L579.2,601.9L580.7,610.7L582.2,603.1L583.8,599.4L585.3,608.2L586.8,604.4L588.0,618.2L589.5,610.7L590.8,590.6L592.3,560.4L593.8,545.3L595.1,534.0L596.3,532.8L597.8,549.1L599.3,546.6L600.8,547.8L602.4,536.5L603.9,532.8L604.9,539.1L605.9,569.2L606.9,588.1L608.4,580.5L609.9,611.9L611.4,608.2L612.9,610.7L614.4,613.2L615.9,586.8L617.4,585.5L618.9,579.3L620.4,593.1L622.0,595.6L623.5,576.7L625.0,580.5L626.5,575.5L628.0,559.2L629.5,566.7L631.0,551.6L632.3,555.4L633.5,583.0L635.0,574.2L636.5,580.5L638.0,595.6L639.5,601.9L641.0,588.1L642.3,566.7L643.6,580.5L644.8,565.4L646.1,580.5L647.6,610.7L649.1,604.4L650.6,618.2L651.6,611.9L653.1,625.7L654.6,623.2L655.9,633.3L657.1,593.1L658.6,578.0L660.1,576.7L661.7,575.5L663.2,559.2L664.7,562.9L666.2,569.2L667.4,565.4L668.2,596.8L669.2,574.2L670.7,578.0L672.2,576.7L673.2,625.7L674.0,650.9L675.5,640.8L677.0,623.2L678.5,635.8L680.1,661.4L681.6,635.8L683.1,628.3L684.6,618.2L686.1,620.7L687.6,605.6L689.1,615.7L690.6,624.5L692.1,605.6L693.9,595.6L695.6,588.1L697.1,585.5L698.6,589.3L700.2,580.5L701.7,566.7L703.2,578.0L704.7,571.7L706.2,561.7L707.7,554.1L709.2,557.9L710.2,540.3L711.7,532.8L713.2,520.2L714.0,511.4L714.7,536.5L716.2,529.0L717.7,542.8L719.3,555.4L720.8,546.6L722.3,536.5L723.8,535.3L725.3,547.8L726.8,544.1L728.3,555.4L729.8,550.4L731.1,570.5L732.8,557.9L734.8,554.1L736.3,580.5L737.3,595.6L738.9,598.1L739.9,601.9L741.4,586.8L742.9,589.3L744.4,576.7L745.4,566.7L746.9,547.8L748.4,527.7L749.9,550.4L751.4,544.1L752.9,536.5L754.4,529.0L755.9,520.2L758.0,510.7L759.0,545.3L760.5,552.9L762.0,560.4L763.5,561.7L765.0,565.4L766.5,573.0L767.8,606.9L769.0,594.3L770.5,595.6L772.0,603.1L773.0,608.2L774.5,580.5L776.0,578.0L777.6,590.6L779.1,598.1L780.1,614.4L781.6,573.0L783.1,585.5L784.6,591.8L786.1,590.6L787.6,581.8L789.1,596.8L790.6,580.5L792.1,593.1L793.6,579.3L795.1,583.0L796.7,603.1L798.2,610.7L799.2,633.3L800.7,620.7L802.2,623.2L803.7,623.2L805.2,598.1L806.7,594.3L808.2,583.0L809.7,580.5L811.2,585.5L812.7,570.5L814.2,580.5L815.8,598.1L817.3,603.1L818.8,590.6L820.3,578.0L821.8,569.2L823.3,518.9L824.8,526.5L826.3,517.7L827.3,508.1L828.3,585.5L829.8,613.2L831.3,609.4L832.8,613.2L834.3,600.6L835.9,608.2L837.1,595.6L838.9,580.5L840.4,596.8L841.9,624.5L843.4,603.1L844.9,595.6L846.4,583.0L847.9,593.1L849.4,586.8L850.9,591.8L852.4,580.5L853.9,578.0L855.5,585.5L857.0,574.2L858.5,555.4L860.0,556.6L861.5,550.4L862.7,544.8L864.0,560.4L865.0,583.0L866.0,611.9L867.5,603.1L868.5,614.4L870.0,600.6L871.0,610.7L872.5,580.5L874.1,579.3L875.1,603.1L876.6,580.5L878.1,569.2L879.6,574.2L881.1,571.7L882.6,566.7L884.1,561.7L885.6,560.4L887.1,559.2L888.6,564.2L889.6,583.0L891.1,576.7L892.6,583.0L894.2,566.7L895.7,565.4L896.9,599.4L898.7,595.6L900.2,565.4L901.7,546.6L903.2,555.4L904.7,566.7L906.2,538.3L907.7,570.5L909.2,547.8L910.7,542.8L912.2,542.8L913.8,535.3L915.3,540.3L916.8,541.6L918.3,531.5L919.5,557.9L920.8,542.8L922.3,520.2L923.8,514.4L925.1,555.4L926.3,529.0L927.8,527.7L929.3,522.7L930.8,532.8L932.4,540.3L933.9,526.5L934.9,512.7L936.4,522.7L937.9,517.7L939.4,518.9L940.9,545.3L942.4,529.0L943.9,511.4L945.2,521.5L945.9,515.2L947.2,545.3L948.4,526.5L949.9,545.3L951.4,568.0L953.0,578.0L954.5,569.2L956.0,574.2L957.5,568.0L959.0,588.1L960.5,591.8L962.0,588.1L963.5,594.3L964.5,601.9L965.5,570.5L967.0,581.8L968.0,573.0L969.5,600.6L971.0,596.8L972.6,600.6L973.6,615.7L975.1,603.1L976.6,595.6L978.1,605.6L979.6,613.2L981.1,619.5L982.6,583.0L984.1,598.1L985.6,605.6L987.1,610.7L988.1,628.3L989.1,595.6L990.7,618.2L992.2,603.1L993.7,600.6L994.7,635.8L996.2,620.7L997.7,637.1L998.9,643.3L1000.2,623.2L1001.7,608.2L1003.2,600.6L1004.7,590.6L1006.2,600.6L1007.7,579.3L1009.0,566.7L1010.6,560.4L1011.6,555.4L1012.6,569.2L1014.1,566.7L1015.6,578.0L1017.1,575.5L1018.6,549.1L1020.1,547.8L1021.6,550.4L1022.6,556.6L1024.1,552.9L1025.1,568.0L1026.6,576.7L1028.1,565.4L1029.7,560.4L1030.7,557.4L1032.2,573.0L1033.7,596.8L1035.2,594.3L1036.7,598.1L1038.2,600.6L1039.7,588.1L1041.0,590.6L1041.7,620.7L1042.7,605.6L1044.2,610.7L1045.7,625.7L1047.2,632.0L1048.8,642.1L1049.8,588.1L1051.3,589.3L1052.8,590.6L1053.8,605.6L1054.8,593.1L1056.3,603.1L1057.8,590.6L1059.3,594.3L1060.8,575.0L1062.3,590.6L1063.8,593.1L1065.3,586.8L1066.8,601.9L1067.8,545.3L1068.9,512.7L1069.9,496.3L1071.1,494.6L1072.4,530.3L1073.4,545.3L1074.4,544.1L1075.4,568.0L1076.9,562.9L1078.4,595.6L1079.4,588.1L1080.9,610.7L1082.4,603.1L1083.9,603.1L1085.4,605.6L1086.9,630.8L1088.0,600.6L1089.5,585.5L1091.0,568.0L1092.5,555.4L1094.0,549.1L1095.0,547.3L1096.2,560.4L1097.5,576.7L1099.0,565.4L1100.5,552.9L1101.5,562.9L1103.0,575.5L1104.5,580.5L1106.0,579.3L1107.6,588.1L1109.1,590.6L1110.6,600.6L1112.1,588.1L1113.6,590.6L1115.1,588.1L1116.6,581.8L1118.1,588.1L1119.6,593.1L1121.1,605.6L1122.6,593.1L1124.1,598.1L1125.1,568.0L1126.1,552.9L1127.2,551.6L1128.2,573.0L1129.2,540.3L1130.7,534.0L1131.7,546.6L1133.2,530.3L1134.7,531.5L1135.9,526.5L1137.2,536.5L1138.7,540.3L1140.2,555.4L1141.2,574.2L1142.7,562.9L1144.2,566.7L1145.8,560.4L1147.3,559.2L1148.3,583.0L1149.8,600.6L1151.3,584.3L1152.8,600.6L1154.3,590.6L1155.8,601.9L1157.3,605.6L1158.8,595.6L1160.3,598.1L1161.3,617.0L1162.8,593.1L1164.3,615.7L1165.9,630.8L1167.1,635.3L1168.4,615.7L1169.9,580.5L1170.9,521.5L1171.9,574.2L1173.4,575.5L1174.9,580.5L1176.4,583.0L1177.9,578.0L1179.4,576.7L1180.9,590.6L1182.4,579.3L1183.9,594.3L1185.5,578.0L1187.0,580.5L1188.5,579.3L1190.0,570.5L1191.5,565.4L1193.0,552.9L1194.5,555.4L1196.0,565.4L1197.3,550.4L1198.5,585.5L1200.0,603.1L1201.5,605.6L1203.0,615.7L1204.6,617.0L1206.1,619.5L1207.6,625.7L1209.1,627.0L1210.6,600.6L1212.1,598.1L1213.6,584.3L1215.1,590.6L1216.1,598.1L1217.4,588.6L1218.6,610.7L1220.1,629.5L1221.6,630.8L1223.1,630.8L1224.7,650.9L1226.2,660.9L1227.2,669.7L1228.2,640.8L1229.4,628.3L1230.7,630.8L1231.7,640.8L1232.9,645.9L1234.2,628.3L1235.7,620.7L1237.2,603.1L1238.7,600.6L1240.2,588.1L1241.7,575.5L1243.3,562.9L1244.8,544.1L1246.3,546.6L1247.3,533.3L1248.3,555.4L1249.8,547.8L1251.3,560.4L1252.8,566.7L1254.3,568.0L1255.0,557.9" stroke="#7e57c2" stroke-width="1.1" fill="none" stroke-linejoin="round"/>
</g>
<text x="1264.4" y="64.4" font-size="12.5" fill="#131722" stroke="#131722" stroke-width="0.22" textLength="71" lengthAdjust="spacingAndGlyphs">0.08400000</text>
<text x="1264.4" y="112.2" font-size="12.5" fill="#131722" stroke="#131722" stroke-width="0.22" textLength="71" lengthAdjust="spacingAndGlyphs">0.08200000</text>
<text x="1264.4" y="160.0" font-size="12.5" fill="#131722" stroke="#131722" stroke-width="0.22" textLength="71" lengthAdjust="spacingAndGlyphs">0.08000000</text>
<text x="1264.4" y="207.8" font-size="12.5" fill="#131722" stroke="#131722" stroke-width="0.22" textLength="71" lengthAdjust="spacingAndGlyphs">0.07800000</text>
<text x="1264.4" y="255.6" font-size="12.5" fill="#131722" stroke="#131722" stroke-width="0.22" textLength="71" lengthAdjust="spacingAndGlyphs">0.07600000</text>
<text x="1264.4" y="303.4" font-size="12.5" fill="#131722" stroke="#131722" stroke-width="0.22" textLength="71" lengthAdjust="spacingAndGlyphs">0.07400000</text>
<text x="1264.4" y="351.2" font-size="12.5" fill="#131722" stroke="#131722" stroke-width="0.22" textLength="71" lengthAdjust="spacingAndGlyphs">0.07200000</text>
<text x="1264.4" y="399.0" font-size="12.5" fill="#131722" stroke="#131722" stroke-width="0.22" textLength="71" lengthAdjust="spacingAndGlyphs">0.07000000</text>
<text x="1264.4" y="446.8" font-size="12.5" fill="#131722" stroke="#131722" stroke-width="0.22" textLength="71" lengthAdjust="spacingAndGlyphs">0.06800000</text>
<text x="1264.4" y="504.8" font-size="12.5" fill="#131722" stroke="#131722" stroke-width="0.22" textLength="32.8" lengthAdjust="spacingAndGlyphs">80.00</text>
<text x="1264.4" y="556.7" font-size="12.5" fill="#131722" stroke="#131722" stroke-width="0.22" textLength="32.8" lengthAdjust="spacingAndGlyphs">60.00</text>
<text x="1264.4" y="608.2" font-size="12.5" fill="#131722" stroke="#131722" stroke-width="0.22" textLength="32.8" lengthAdjust="spacingAndGlyphs">40.00</text>
<text x="1264.4" y="658.8" font-size="12.5" fill="#131722" stroke="#131722" stroke-width="0.22" textLength="32.8" lengthAdjust="spacingAndGlyphs">20.00</text>
<rect x="1256" y="245" width="85" height="17" rx="2" fill="#0000ff"/>
<text x="1264.5" y="257.9" font-size="12.5" fill="#fff" stroke="#fff" stroke-width="0.22" textLength="70.5" lengthAdjust="spacingAndGlyphs">0.07552590</text>
<rect x="1256" y="262" width="85" height="17" rx="2" fill="#00ffff"/>
<text x="1264.5" y="274.9" font-size="12.5" fill="#000" stroke="#000" stroke-width="0.22" textLength="70.5" lengthAdjust="spacingAndGlyphs">0.07493496</text>
<rect x="1256" y="279" width="85" height="31" rx="2" fill="#4caf50"/>
<text x="1264.5" y="292.5" font-size="12.5" fill="#fff" stroke="#fff" stroke-width="0.22" textLength="70.5" lengthAdjust="spacingAndGlyphs">0.07450000</text>
<text x="1264.5" y="306" font-size="12.5" fill="#dbefdc" stroke="#dbefdc" stroke-width="0.22" textLength="32.5" lengthAdjust="spacingAndGlyphs">13:12</text>
<rect x="1256" y="310" width="85" height="17" rx="2" fill="#ff8000"/>
<text x="1264.5" y="322.9" font-size="12.5" fill="#fff" stroke="#fff" stroke-width="0.22" textLength="70.5" lengthAdjust="spacingAndGlyphs">0.07443435</text>
<rect x="1256" y="327" width="85" height="17" rx="2" fill="#ff0000"/>
<text x="1264.5" y="339.9" font-size="12.5" fill="#fff" stroke="#fff" stroke-width="0.22" textLength="70.5" lengthAdjust="spacingAndGlyphs">0.07430317</text>
<rect x="1256" y="538" width="47" height="17" rx="2" fill="#fdd835"/>
<text x="1264.5" y="551" font-size="12.5" fill="#000" stroke="#000" stroke-width="0.22" textLength="32.8" lengthAdjust="spacingAndGlyphs">58.62</text>
<rect x="1256" y="555" width="47" height="17" rx="2" fill="#7e57c2"/>
<text x="1264.5" y="568" font-size="12.5" fill="#fff" stroke="#fff" stroke-width="0.22" textLength="32.8" lengthAdjust="spacingAndGlyphs">55.93</text>
<text x="17.9" y="46.9" font-size="12.5" fill="#131722" stroke="#131722" stroke-width="0.22" textLength="138.1" lengthAdjust="spacingAndGlyphs">XDC / UST · 30 · Bitfinex</text>
<text x="163.6" y="46.9" font-size="12.5" fill="#131722" stroke="#131722" stroke-width="0.22" textLength="9" lengthAdjust="spacingAndGlyphs">O</text>
<text x="172.5" y="46.9" font-size="12.5" fill="#4caf50" stroke="#4caf50" stroke-width="0.22" textLength="68.5" lengthAdjust="spacingAndGlyphs">0.07446000</text>
<text x="249" y="46.9" font-size="12.5" fill="#131722" stroke="#131722" stroke-width="0.22" textLength="8.6" lengthAdjust="spacingAndGlyphs">H</text>
<text x="257.5" y="46.9" font-size="12.5" fill="#4caf50" stroke="#4caf50" stroke-width="0.22" textLength="67.8" lengthAdjust="spacingAndGlyphs">0.07452000</text>
<text x="333.2" y="46.9" font-size="12.5" fill="#131722" stroke="#131722" stroke-width="0.22" textLength="6.5" lengthAdjust="spacingAndGlyphs">L</text>
<text x="340" y="46.9" font-size="12.5" fill="#4caf50" stroke="#4caf50" stroke-width="0.22" textLength="67.5" lengthAdjust="spacingAndGlyphs">0.07435000</text>
<text x="415.6" y="46.9" font-size="12.5" fill="#131722" stroke="#131722" stroke-width="0.22" textLength="8.5" lengthAdjust="spacingAndGlyphs">C</text>
<text x="424.3" y="46.9" font-size="12.5" fill="#4caf50" stroke="#4caf50" stroke-width="0.22" textLength="68.3" lengthAdjust="spacingAndGlyphs">0.07450000</text>
<text x="499.8" y="46.9" font-size="12.5" fill="#4caf50" stroke="#4caf50" stroke-width="0.22" textLength="130.3" lengthAdjust="spacingAndGlyphs">+0.00010000 (+0.13%)</text>
<text x="637.2" y="46.9" font-size="12.5" fill="#131722" stroke="#131722" stroke-width="0.22" textLength="16.8" lengthAdjust="spacingAndGlyphs">Vol</text>
<text x="654" y="46.9" font-size="12.5" fill="#4caf50" stroke="#4caf50" stroke-width="0.22" textLength="40" lengthAdjust="spacingAndGlyphs">71.04 K</text>
<text x="702.3" y="46.9" font-size="12.5" fill="#4caf50" stroke="#4caf50" stroke-width="0.22" textLength="127" lengthAdjust="spacingAndGlyphs">+0.00112000 (+1.53%)</text>
<text x="17.9" y="64" font-size="12.5" fill="#131722" stroke="#131722" stroke-width="0.22" textLength="112.1" lengthAdjust="spacingAndGlyphs">EMA 20/50/100/200</text>
<text x="138.5" y="64" font-size="12.5" fill="#ff0000" stroke="#ff0000" stroke-width="0.22" textLength="65.2" lengthAdjust="spacingAndGlyphs">0.07430317</text>
<text x="211.5" y="64" font-size="12.5" fill="#ff8000" stroke="#ff8000" stroke-width="0.22" textLength="67.5" lengthAdjust="spacingAndGlyphs">0.07443435</text>
<text x="287.7" y="64" font-size="12.5" fill="#00ffff" stroke="#00ffff" stroke-width="0.22" textLength="68.3" lengthAdjust="spacingAndGlyphs">0.07493496</text>
<text x="363.2" y="64" font-size="12.5" fill="#0000ff" stroke="#0000ff" stroke-width="0.22" textLength="68.3" lengthAdjust="spacingAndGlyphs">0.07552590</text>
<text x="18.6" y="488" font-size="12.5" fill="#131722" stroke="#131722" stroke-width="0.22" textLength="79.5" lengthAdjust="spacingAndGlyphs">RSI (14, close)</text>
<text x="106.2" y="488" font-size="12.5" fill="#7e57c2" stroke="#7e57c2" stroke-width="0.22" textLength="31.5" lengthAdjust="spacingAndGlyphs">55.93</text>
<text x="145.8" y="488" font-size="12.5" fill="#fdd835" stroke="#fdd835" stroke-width="0.22" textLength="31.3" lengthAdjust="spacingAndGlyphs">58.62</text>
<text x="52.1" y="707.3" font-size="12.5" fill="#131722" stroke="#131722" stroke-width="0.22" text-anchor="middle">27</text>
<text x="134.1" y="707.3" font-size="12.5" fill="#131722" stroke="#131722" stroke-width="0.22" text-anchor="middle">29</text>
<text x="254.8" y="707.3" font-size="12.5" fill="#131722" stroke="#131722" stroke-width="0.22" font-weight="700" text-anchor="middle" textLength="22" lengthAdjust="spacingAndGlyphs">Sep</text>
<text x="336.2" y="707.3" font-size="12.5" fill="#131722" stroke="#131722" stroke-width="0.22" text-anchor="middle">3</text>
<text x="420.05" y="707.3" font-size="12.5" fill="#131722" stroke="#131722" stroke-width="0.22" text-anchor="middle">5</text>
<text x="501.15" y="707.3" font-size="12.5" fill="#131722" stroke="#131722" stroke-width="0.22" text-anchor="middle">7</text>
<text x="575.95" y="707.3" font-size="12.5" fill="#131722" stroke="#131722" stroke-width="0.22" text-anchor="middle">9</text>
<text x="653.1500000000001" y="707.3" font-size="12.5" fill="#131722" stroke="#131722" stroke-width="0.22" text-anchor="middle">11</text>
<text x="731.0500000000001" y="707.3" font-size="12.5" fill="#131722" stroke="#131722" stroke-width="0.22" text-anchor="middle">13</text>
<text x="807.1" y="707.3" font-size="12.5" fill="#131722" stroke="#131722" stroke-width="0.22" text-anchor="middle">15</text>
<text x="883.25" y="707.3" font-size="12.5" fill="#131722" stroke="#131722" stroke-width="0.22" text-anchor="middle">17</text>
<text x="958.2" y="707.3" font-size="12.5" fill="#131722" stroke="#131722" stroke-width="0.22" text-anchor="middle">19</text>
<text x="1034.0" y="707.3" font-size="12.5" fill="#131722" stroke="#131722" stroke-width="0.22" text-anchor="middle">21</text>
<text x="1110.0" y="707.3" font-size="12.5" fill="#131722" stroke="#131722" stroke-width="0.22" text-anchor="middle">23</text>
<text x="1191.25" y="707.3" font-size="12.5" fill="#131722" stroke="#131722" stroke-width="0.22" text-anchor="middle">25</text>
<path d="M12.1,738H24.1V752.8H18V743.3H12.1Z M34.2,738H41.8L36.2,752.8H29.1Z" fill="#141414"/>
<circle cx="29.1" cy="740.7" r="2.7" fill="#141414"/>
<text x="49.2" y="752.8" font-size="20.7" fill="#141414" stroke="#141414" stroke-width="0.22" font-weight="700" textLength="120.5" lengthAdjust="spacingAndGlyphs">TradingView</text>
</svg>
</body></html>
